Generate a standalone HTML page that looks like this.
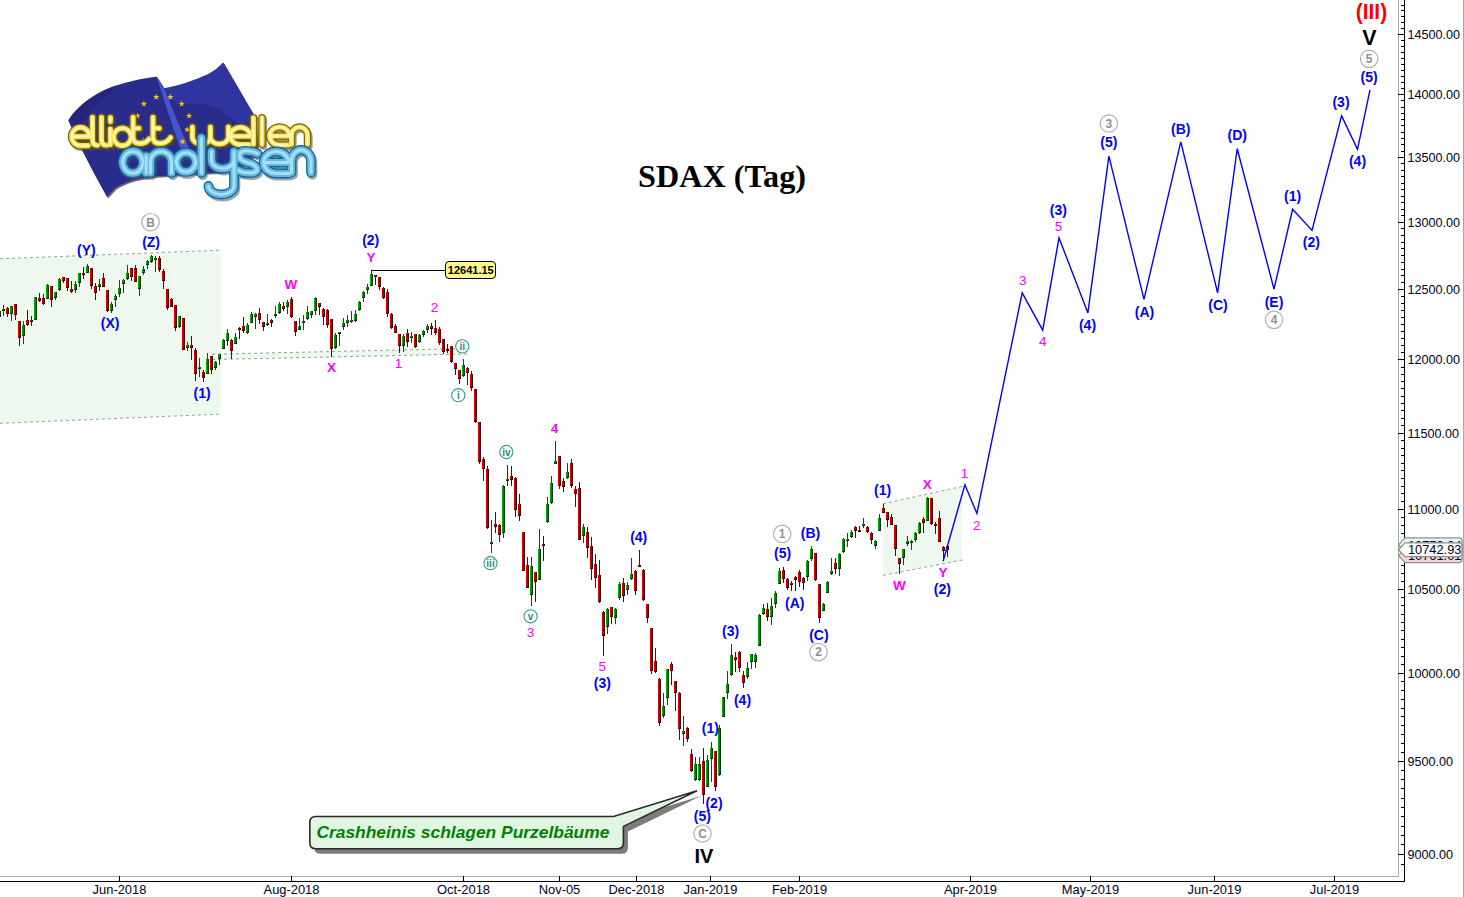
<!DOCTYPE html>
<html><head><meta charset="utf-8"><title>SDAX (Tag)</title>
<style>
html,body{margin:0;padding:0;background:#fff;}
body{width:1464px;height:897px;overflow:hidden;position:relative;font-family:"Liberation Sans",sans-serif;}
svg{position:absolute;left:0;top:0;}
rect{shape-rendering:crispEdges;}
</style></head><body>
<svg width="1464" height="897" viewBox="0 0 1464 897">
<polygon points="0,258.8 221,250.2 221,414.1 0,423.3" fill="#eef8ee"/>
<line x1="0" y1="258.8" x2="221" y2="250.2" stroke="#8fa596" stroke-width="1" stroke-dasharray="3,3"/>
<line x1="0" y1="423.3" x2="221" y2="414.1" stroke="#8fa596" stroke-width="1" stroke-dasharray="3,3"/>
<polygon points="212,354.2 468,348.5 468,354.0 212,359.5" fill="#eef8ee"/>
<line x1="212" y1="354.2" x2="468" y2="348.5" stroke="#8fa596" stroke-width="1" stroke-dasharray="3,3"/>
<line x1="212" y1="359.5" x2="468" y2="354.0" stroke="#8fa596" stroke-width="1" stroke-dasharray="3,3"/>
<polygon points="883,503.8 962.3,486.4 962.3,560.0 883,575.4" fill="#eef8ee"/>
<line x1="883" y1="503.8" x2="962.3" y2="486.4" stroke="#8fa596" stroke-width="1" stroke-dasharray="3,3"/>
<line x1="883" y1="575.4" x2="962.3" y2="560.0" stroke="#8fa596" stroke-width="1" stroke-dasharray="3,3"/>
<rect x="1398" y="0" width="1" height="877" fill="#9cb09c"/>
<rect x="0" y="876" width="1399" height="1" fill="#a8b0a8"/>
<rect x="1404" y="0" width="1" height="882" fill="#000"/>
<rect x="0" y="881" width="1405" height="1" fill="#000"/>
<rect x="1463" y="0" width="1" height="897" fill="#9aa6cc"/>
<rect x="1401" y="864" width="3" height="1" fill="#000"/>
<rect x="1398" y="854" width="7" height="1" fill="#000"/>
<rect x="1401" y="844" width="3" height="1" fill="#000"/>
<rect x="1401" y="835" width="3" height="1" fill="#000"/>
<rect x="1401" y="826" width="3" height="1" fill="#000"/>
<rect x="1401" y="816" width="3" height="1" fill="#000"/>
<rect x="1401" y="807" width="3" height="1" fill="#000"/>
<rect x="1401" y="798" width="3" height="1" fill="#000"/>
<rect x="1401" y="788" width="3" height="1" fill="#000"/>
<rect x="1401" y="779" width="3" height="1" fill="#000"/>
<rect x="1401" y="770" width="3" height="1" fill="#000"/>
<rect x="1398" y="761" width="7" height="1" fill="#000"/>
<rect x="1401" y="752" width="3" height="1" fill="#000"/>
<rect x="1401" y="743" width="3" height="1" fill="#000"/>
<rect x="1401" y="734" width="3" height="1" fill="#000"/>
<rect x="1401" y="725" width="3" height="1" fill="#000"/>
<rect x="1401" y="716" width="3" height="1" fill="#000"/>
<rect x="1401" y="708" width="3" height="1" fill="#000"/>
<rect x="1401" y="699" width="3" height="1" fill="#000"/>
<rect x="1401" y="690" width="3" height="1" fill="#000"/>
<rect x="1401" y="681" width="3" height="1" fill="#000"/>
<rect x="1398" y="673" width="7" height="1" fill="#000"/>
<rect x="1401" y="664" width="3" height="1" fill="#000"/>
<rect x="1401" y="656" width="3" height="1" fill="#000"/>
<rect x="1401" y="647" width="3" height="1" fill="#000"/>
<rect x="1401" y="639" width="3" height="1" fill="#000"/>
<rect x="1401" y="630" width="3" height="1" fill="#000"/>
<rect x="1401" y="622" width="3" height="1" fill="#000"/>
<rect x="1401" y="614" width="3" height="1" fill="#000"/>
<rect x="1401" y="605" width="3" height="1" fill="#000"/>
<rect x="1401" y="597" width="3" height="1" fill="#000"/>
<rect x="1398" y="589" width="7" height="1" fill="#000"/>
<rect x="1401" y="581" width="3" height="1" fill="#000"/>
<rect x="1401" y="573" width="3" height="1" fill="#000"/>
<rect x="1401" y="565" width="3" height="1" fill="#000"/>
<rect x="1401" y="557" width="3" height="1" fill="#000"/>
<rect x="1401" y="549" width="3" height="1" fill="#000"/>
<rect x="1401" y="541" width="3" height="1" fill="#000"/>
<rect x="1401" y="533" width="3" height="1" fill="#000"/>
<rect x="1401" y="525" width="3" height="1" fill="#000"/>
<rect x="1401" y="517" width="3" height="1" fill="#000"/>
<rect x="1398" y="509" width="7" height="1" fill="#000"/>
<rect x="1401" y="501" width="3" height="1" fill="#000"/>
<rect x="1401" y="493" width="3" height="1" fill="#000"/>
<rect x="1401" y="486" width="3" height="1" fill="#000"/>
<rect x="1401" y="478" width="3" height="1" fill="#000"/>
<rect x="1401" y="470" width="3" height="1" fill="#000"/>
<rect x="1401" y="463" width="3" height="1" fill="#000"/>
<rect x="1401" y="455" width="3" height="1" fill="#000"/>
<rect x="1401" y="448" width="3" height="1" fill="#000"/>
<rect x="1401" y="440" width="3" height="1" fill="#000"/>
<rect x="1398" y="433" width="7" height="1" fill="#000"/>
<rect x="1401" y="425" width="3" height="1" fill="#000"/>
<rect x="1401" y="418" width="3" height="1" fill="#000"/>
<rect x="1401" y="410" width="3" height="1" fill="#000"/>
<rect x="1401" y="403" width="3" height="1" fill="#000"/>
<rect x="1401" y="396" width="3" height="1" fill="#000"/>
<rect x="1401" y="388" width="3" height="1" fill="#000"/>
<rect x="1401" y="381" width="3" height="1" fill="#000"/>
<rect x="1401" y="374" width="3" height="1" fill="#000"/>
<rect x="1401" y="367" width="3" height="1" fill="#000"/>
<rect x="1398" y="359" width="7" height="1" fill="#000"/>
<rect x="1401" y="352" width="3" height="1" fill="#000"/>
<rect x="1401" y="345" width="3" height="1" fill="#000"/>
<rect x="1401" y="338" width="3" height="1" fill="#000"/>
<rect x="1401" y="331" width="3" height="1" fill="#000"/>
<rect x="1401" y="324" width="3" height="1" fill="#000"/>
<rect x="1401" y="317" width="3" height="1" fill="#000"/>
<rect x="1401" y="310" width="3" height="1" fill="#000"/>
<rect x="1401" y="303" width="3" height="1" fill="#000"/>
<rect x="1401" y="296" width="3" height="1" fill="#000"/>
<rect x="1398" y="289" width="7" height="1" fill="#000"/>
<rect x="1401" y="282" width="3" height="1" fill="#000"/>
<rect x="1401" y="275" width="3" height="1" fill="#000"/>
<rect x="1401" y="269" width="3" height="1" fill="#000"/>
<rect x="1401" y="262" width="3" height="1" fill="#000"/>
<rect x="1401" y="255" width="3" height="1" fill="#000"/>
<rect x="1401" y="248" width="3" height="1" fill="#000"/>
<rect x="1401" y="242" width="3" height="1" fill="#000"/>
<rect x="1401" y="235" width="3" height="1" fill="#000"/>
<rect x="1401" y="228" width="3" height="1" fill="#000"/>
<rect x="1398" y="222" width="7" height="1" fill="#000"/>
<rect x="1401" y="215" width="3" height="1" fill="#000"/>
<rect x="1401" y="209" width="3" height="1" fill="#000"/>
<rect x="1401" y="202" width="3" height="1" fill="#000"/>
<rect x="1401" y="196" width="3" height="1" fill="#000"/>
<rect x="1401" y="189" width="3" height="1" fill="#000"/>
<rect x="1401" y="183" width="3" height="1" fill="#000"/>
<rect x="1401" y="176" width="3" height="1" fill="#000"/>
<rect x="1401" y="170" width="3" height="1" fill="#000"/>
<rect x="1401" y="163" width="3" height="1" fill="#000"/>
<rect x="1398" y="157" width="7" height="1" fill="#000"/>
<rect x="1401" y="151" width="3" height="1" fill="#000"/>
<rect x="1401" y="144" width="3" height="1" fill="#000"/>
<rect x="1401" y="138" width="3" height="1" fill="#000"/>
<rect x="1401" y="132" width="3" height="1" fill="#000"/>
<rect x="1401" y="125" width="3" height="1" fill="#000"/>
<rect x="1401" y="119" width="3" height="1" fill="#000"/>
<rect x="1401" y="113" width="3" height="1" fill="#000"/>
<rect x="1401" y="107" width="3" height="1" fill="#000"/>
<rect x="1401" y="100" width="3" height="1" fill="#000"/>
<rect x="1398" y="94" width="7" height="1" fill="#000"/>
<rect x="1401" y="88" width="3" height="1" fill="#000"/>
<rect x="1401" y="82" width="3" height="1" fill="#000"/>
<rect x="1401" y="76" width="3" height="1" fill="#000"/>
<rect x="1401" y="70" width="3" height="1" fill="#000"/>
<rect x="1401" y="64" width="3" height="1" fill="#000"/>
<rect x="1401" y="58" width="3" height="1" fill="#000"/>
<rect x="1401" y="52" width="3" height="1" fill="#000"/>
<rect x="1401" y="46" width="3" height="1" fill="#000"/>
<rect x="1401" y="40" width="3" height="1" fill="#000"/>
<rect x="1398" y="34" width="7" height="1" fill="#000"/>
<rect x="1401" y="28" width="3" height="1" fill="#000"/>
<rect x="1401" y="22" width="3" height="1" fill="#000"/>
<rect x="1401" y="16" width="3" height="1" fill="#000"/>
<rect x="1401" y="10" width="3" height="1" fill="#000"/>
<rect x="1401" y="5" width="3" height="1" fill="#000"/>
<text x="1407.5" y="859.1" font-family="Liberation Sans, sans-serif" font-size="12.6" fill="#000028">9000.00</text>
<text x="1407.5" y="766.1" font-family="Liberation Sans, sans-serif" font-size="12.6" fill="#000028">9500.00</text>
<text x="1407.5" y="678.1" font-family="Liberation Sans, sans-serif" font-size="12.6" fill="#000028">10000.00</text>
<text x="1407.5" y="594.1" font-family="Liberation Sans, sans-serif" font-size="12.6" fill="#000028">10500.00</text>
<text x="1407.5" y="514.1" font-family="Liberation Sans, sans-serif" font-size="12.6" fill="#000028">11000.00</text>
<text x="1407.5" y="438.1" font-family="Liberation Sans, sans-serif" font-size="12.6" fill="#000028">11500.00</text>
<text x="1407.5" y="364.1" font-family="Liberation Sans, sans-serif" font-size="12.6" fill="#000028">12000.00</text>
<text x="1407.5" y="294.1" font-family="Liberation Sans, sans-serif" font-size="12.6" fill="#000028">12500.00</text>
<text x="1407.5" y="227.1" font-family="Liberation Sans, sans-serif" font-size="12.6" fill="#000028">13000.00</text>
<text x="1407.5" y="162.1" font-family="Liberation Sans, sans-serif" font-size="12.6" fill="#000028">13500.00</text>
<text x="1407.5" y="99.1" font-family="Liberation Sans, sans-serif" font-size="12.6" fill="#000028">14000.00</text>
<text x="1407.5" y="39.1" font-family="Liberation Sans, sans-serif" font-size="12.6" fill="#000028">14500.00</text>
<rect x="119.0" y="876" width="1" height="5" fill="#000"/>
<text x="119.5" y="893.7" font-family="Liberation Sans, sans-serif" font-size="12.9" fill="#000028" text-anchor="middle">Jun-2018</text>
<rect x="291.0" y="876" width="1" height="5" fill="#000"/>
<text x="291.5" y="893.7" font-family="Liberation Sans, sans-serif" font-size="12.9" fill="#000028" text-anchor="middle">Aug-2018</text>
<rect x="463.0" y="876" width="1" height="5" fill="#000"/>
<text x="463.5" y="893.7" font-family="Liberation Sans, sans-serif" font-size="12.9" fill="#000028" text-anchor="middle">Oct-2018</text>
<rect x="559.0" y="876" width="1" height="5" fill="#000"/>
<text x="559.5" y="893.7" font-family="Liberation Sans, sans-serif" font-size="12.9" fill="#000028" text-anchor="middle">Nov-05</text>
<rect x="636.0" y="876" width="1" height="5" fill="#000"/>
<text x="636.5" y="893.7" font-family="Liberation Sans, sans-serif" font-size="12.9" fill="#000028" text-anchor="middle">Dec-2018</text>
<rect x="710.0" y="876" width="1" height="5" fill="#000"/>
<text x="710.5" y="893.7" font-family="Liberation Sans, sans-serif" font-size="12.9" fill="#000028" text-anchor="middle">Jan-2019</text>
<rect x="799.0" y="876" width="1" height="5" fill="#000"/>
<text x="799.5" y="893.7" font-family="Liberation Sans, sans-serif" font-size="12.9" fill="#000028" text-anchor="middle">Feb-2019</text>
<rect x="970.0" y="876" width="1" height="5" fill="#000"/>
<text x="970.5" y="893.7" font-family="Liberation Sans, sans-serif" font-size="12.9" fill="#000028" text-anchor="middle">Apr-2019</text>
<rect x="1090.0" y="876" width="1" height="5" fill="#000"/>
<text x="1090.5" y="893.7" font-family="Liberation Sans, sans-serif" font-size="12.9" fill="#000028" text-anchor="middle">May-2019</text>
<rect x="1214.0" y="876" width="1" height="5" fill="#000"/>
<text x="1214.5" y="893.7" font-family="Liberation Sans, sans-serif" font-size="12.9" fill="#000028" text-anchor="middle">Jun-2019</text>
<rect x="1334.0" y="876" width="1" height="5" fill="#000"/>
<text x="1334.5" y="893.7" font-family="Liberation Sans, sans-serif" font-size="12.9" fill="#000028" text-anchor="middle">Jul-2019</text>
<rect x="-1" y="308" width="1" height="10" fill="#005800"/>
<rect x="-2" y="311" width="1" height="6" fill="#00b000"/>
<rect x="-1" y="311" width="1" height="6" fill="#007400"/>
<rect x="0" y="311" width="1" height="6" fill="#003800"/>
<rect x="-2" y="316" width="3" height="1" fill="#003800"/>
<rect x="3" y="305" width="1" height="11" fill="#005800"/>
<rect x="2" y="309" width="1" height="2" fill="#00b000"/>
<rect x="3" y="309" width="1" height="2" fill="#007400"/>
<rect x="4" y="309" width="1" height="2" fill="#003800"/>
<rect x="2" y="310" width="3" height="1" fill="#003800"/>
<rect x="7" y="307" width="1" height="10" fill="#6a0000"/>
<rect x="6" y="308" width="1" height="6" fill="#d80000"/>
<rect x="7" y="308" width="1" height="6" fill="#a00000"/>
<rect x="8" y="308" width="1" height="6" fill="#400000"/>
<rect x="6" y="313" width="3" height="1" fill="#400000"/>
<rect x="11" y="306" width="1" height="15" fill="#005800"/>
<rect x="10" y="306" width="1" height="8" fill="#00b000"/>
<rect x="11" y="306" width="1" height="8" fill="#007400"/>
<rect x="12" y="306" width="1" height="8" fill="#003800"/>
<rect x="10" y="313" width="3" height="1" fill="#003800"/>
<rect x="15" y="304" width="1" height="16" fill="#6a0000"/>
<rect x="14" y="304" width="1" height="11" fill="#d80000"/>
<rect x="15" y="304" width="1" height="11" fill="#a00000"/>
<rect x="16" y="304" width="1" height="11" fill="#400000"/>
<rect x="14" y="314" width="3" height="1" fill="#400000"/>
<rect x="19" y="321" width="1" height="25" fill="#6a0000"/>
<rect x="18" y="321" width="1" height="17" fill="#d80000"/>
<rect x="19" y="321" width="1" height="17" fill="#a00000"/>
<rect x="20" y="321" width="1" height="17" fill="#400000"/>
<rect x="18" y="337" width="3" height="1" fill="#400000"/>
<rect x="23" y="321" width="1" height="23" fill="#005800"/>
<rect x="22" y="325" width="1" height="11" fill="#00b000"/>
<rect x="23" y="325" width="1" height="11" fill="#007400"/>
<rect x="24" y="325" width="1" height="11" fill="#003800"/>
<rect x="22" y="335" width="3" height="1" fill="#003800"/>
<rect x="27" y="310" width="1" height="16" fill="#6a0000"/>
<rect x="26" y="320" width="1" height="5" fill="#d80000"/>
<rect x="27" y="320" width="1" height="5" fill="#a00000"/>
<rect x="28" y="320" width="1" height="5" fill="#400000"/>
<rect x="26" y="324" width="3" height="1" fill="#400000"/>
<rect x="31" y="316" width="1" height="10" fill="#6a0000"/>
<rect x="30" y="320" width="1" height="2" fill="#d80000"/>
<rect x="31" y="320" width="1" height="2" fill="#a00000"/>
<rect x="32" y="320" width="1" height="2" fill="#400000"/>
<rect x="30" y="321" width="3" height="1" fill="#400000"/>
<rect x="35" y="297" width="1" height="23" fill="#005800"/>
<rect x="34" y="297" width="1" height="23" fill="#00b000"/>
<rect x="35" y="297" width="1" height="23" fill="#007400"/>
<rect x="36" y="297" width="1" height="23" fill="#003800"/>
<rect x="34" y="319" width="3" height="1" fill="#003800"/>
<rect x="39" y="293" width="1" height="9" fill="#6a0000"/>
<rect x="38" y="298" width="1" height="3" fill="#d80000"/>
<rect x="39" y="298" width="1" height="3" fill="#a00000"/>
<rect x="40" y="298" width="1" height="3" fill="#400000"/>
<rect x="38" y="300" width="3" height="1" fill="#400000"/>
<rect x="43" y="294" width="1" height="11" fill="#6a0000"/>
<rect x="42" y="298" width="1" height="6" fill="#d80000"/>
<rect x="43" y="298" width="1" height="6" fill="#a00000"/>
<rect x="44" y="298" width="1" height="6" fill="#400000"/>
<rect x="42" y="303" width="3" height="1" fill="#400000"/>
<rect x="47" y="284" width="1" height="15" fill="#005800"/>
<rect x="46" y="285" width="1" height="14" fill="#00b000"/>
<rect x="47" y="285" width="1" height="14" fill="#007400"/>
<rect x="48" y="285" width="1" height="14" fill="#003800"/>
<rect x="46" y="298" width="3" height="1" fill="#003800"/>
<rect x="51" y="286" width="1" height="21" fill="#6a0000"/>
<rect x="50" y="286" width="1" height="14" fill="#d80000"/>
<rect x="51" y="286" width="1" height="14" fill="#a00000"/>
<rect x="52" y="286" width="1" height="14" fill="#400000"/>
<rect x="50" y="299" width="3" height="1" fill="#400000"/>
<rect x="55" y="292" width="1" height="8" fill="#005800"/>
<rect x="54" y="292" width="1" height="6" fill="#00b000"/>
<rect x="55" y="292" width="1" height="6" fill="#007400"/>
<rect x="56" y="292" width="1" height="6" fill="#003800"/>
<rect x="54" y="297" width="3" height="1" fill="#003800"/>
<rect x="59" y="278" width="1" height="13" fill="#005800"/>
<rect x="58" y="279" width="1" height="11" fill="#00b000"/>
<rect x="59" y="279" width="1" height="11" fill="#007400"/>
<rect x="60" y="279" width="1" height="11" fill="#003800"/>
<rect x="58" y="289" width="3" height="1" fill="#003800"/>
<rect x="63" y="277" width="1" height="6" fill="#6a0000"/>
<rect x="62" y="277" width="1" height="4" fill="#d80000"/>
<rect x="63" y="277" width="1" height="4" fill="#a00000"/>
<rect x="64" y="277" width="1" height="4" fill="#400000"/>
<rect x="62" y="280" width="3" height="1" fill="#400000"/>
<rect x="67" y="278" width="1" height="13" fill="#6a0000"/>
<rect x="66" y="278" width="1" height="10" fill="#d80000"/>
<rect x="67" y="278" width="1" height="10" fill="#a00000"/>
<rect x="68" y="278" width="1" height="10" fill="#400000"/>
<rect x="66" y="287" width="3" height="1" fill="#400000"/>
<rect x="71" y="281" width="1" height="12" fill="#6a0000"/>
<rect x="70" y="289" width="1" height="3" fill="#d80000"/>
<rect x="71" y="289" width="1" height="3" fill="#a00000"/>
<rect x="72" y="289" width="1" height="3" fill="#400000"/>
<rect x="70" y="291" width="3" height="1" fill="#400000"/>
<rect x="75" y="281" width="1" height="12" fill="#005800"/>
<rect x="74" y="284" width="1" height="6" fill="#00b000"/>
<rect x="75" y="284" width="1" height="6" fill="#007400"/>
<rect x="76" y="284" width="1" height="6" fill="#003800"/>
<rect x="74" y="289" width="3" height="1" fill="#003800"/>
<rect x="79" y="273" width="1" height="14" fill="#005800"/>
<rect x="78" y="273" width="1" height="10" fill="#00b000"/>
<rect x="79" y="273" width="1" height="10" fill="#007400"/>
<rect x="80" y="273" width="1" height="10" fill="#003800"/>
<rect x="78" y="282" width="3" height="1" fill="#003800"/>
<rect x="83" y="267" width="1" height="12" fill="#6a0000"/>
<rect x="82" y="273" width="1" height="2" fill="#d80000"/>
<rect x="83" y="273" width="1" height="2" fill="#a00000"/>
<rect x="84" y="273" width="1" height="2" fill="#400000"/>
<rect x="82" y="274" width="3" height="1" fill="#400000"/>
<rect x="87" y="264" width="1" height="9" fill="#005800"/>
<rect x="86" y="266" width="1" height="7" fill="#00b000"/>
<rect x="87" y="266" width="1" height="7" fill="#007400"/>
<rect x="88" y="266" width="1" height="7" fill="#003800"/>
<rect x="86" y="272" width="3" height="1" fill="#003800"/>
<rect x="91" y="268" width="1" height="21" fill="#6a0000"/>
<rect x="90" y="268" width="1" height="18" fill="#d80000"/>
<rect x="91" y="268" width="1" height="18" fill="#a00000"/>
<rect x="92" y="268" width="1" height="18" fill="#400000"/>
<rect x="90" y="285" width="3" height="1" fill="#400000"/>
<rect x="95" y="283" width="1" height="17" fill="#6a0000"/>
<rect x="94" y="286" width="1" height="7" fill="#d80000"/>
<rect x="95" y="286" width="1" height="7" fill="#a00000"/>
<rect x="96" y="286" width="1" height="7" fill="#400000"/>
<rect x="94" y="292" width="3" height="1" fill="#400000"/>
<rect x="99" y="279" width="1" height="12" fill="#005800"/>
<rect x="98" y="284" width="1" height="3" fill="#00b000"/>
<rect x="99" y="284" width="1" height="3" fill="#007400"/>
<rect x="100" y="284" width="1" height="3" fill="#003800"/>
<rect x="98" y="286" width="3" height="1" fill="#003800"/>
<rect x="103" y="273" width="1" height="14" fill="#6a0000"/>
<rect x="102" y="278" width="1" height="9" fill="#d80000"/>
<rect x="103" y="278" width="1" height="9" fill="#a00000"/>
<rect x="104" y="278" width="1" height="9" fill="#400000"/>
<rect x="102" y="286" width="3" height="1" fill="#400000"/>
<rect x="107" y="290" width="1" height="22" fill="#6a0000"/>
<rect x="106" y="290" width="1" height="21" fill="#d80000"/>
<rect x="107" y="290" width="1" height="21" fill="#a00000"/>
<rect x="108" y="290" width="1" height="21" fill="#400000"/>
<rect x="106" y="310" width="3" height="1" fill="#400000"/>
<rect x="111" y="302" width="1" height="11" fill="#005800"/>
<rect x="110" y="304" width="1" height="7" fill="#00b000"/>
<rect x="111" y="304" width="1" height="7" fill="#007400"/>
<rect x="112" y="304" width="1" height="7" fill="#003800"/>
<rect x="110" y="310" width="3" height="1" fill="#003800"/>
<rect x="115" y="294" width="1" height="13" fill="#005800"/>
<rect x="114" y="296" width="1" height="4" fill="#00b000"/>
<rect x="115" y="296" width="1" height="4" fill="#007400"/>
<rect x="116" y="296" width="1" height="4" fill="#003800"/>
<rect x="114" y="299" width="3" height="1" fill="#003800"/>
<rect x="119" y="280" width="1" height="17" fill="#005800"/>
<rect x="118" y="288" width="1" height="6" fill="#00b000"/>
<rect x="119" y="288" width="1" height="6" fill="#007400"/>
<rect x="120" y="288" width="1" height="6" fill="#003800"/>
<rect x="118" y="293" width="3" height="1" fill="#003800"/>
<rect x="123" y="279" width="1" height="14" fill="#005800"/>
<rect x="122" y="280" width="1" height="4" fill="#00b000"/>
<rect x="123" y="280" width="1" height="4" fill="#007400"/>
<rect x="124" y="280" width="1" height="4" fill="#003800"/>
<rect x="122" y="283" width="3" height="1" fill="#003800"/>
<rect x="127" y="265" width="1" height="15" fill="#005800"/>
<rect x="126" y="273" width="1" height="6" fill="#00b000"/>
<rect x="127" y="273" width="1" height="6" fill="#007400"/>
<rect x="128" y="273" width="1" height="6" fill="#003800"/>
<rect x="126" y="278" width="3" height="1" fill="#003800"/>
<rect x="131" y="268" width="1" height="13" fill="#6a0000"/>
<rect x="130" y="268" width="1" height="9" fill="#d80000"/>
<rect x="131" y="268" width="1" height="9" fill="#a00000"/>
<rect x="132" y="268" width="1" height="9" fill="#400000"/>
<rect x="130" y="276" width="3" height="1" fill="#400000"/>
<rect x="135" y="265" width="1" height="17" fill="#6a0000"/>
<rect x="134" y="268" width="1" height="14" fill="#d80000"/>
<rect x="135" y="268" width="1" height="14" fill="#a00000"/>
<rect x="136" y="268" width="1" height="14" fill="#400000"/>
<rect x="134" y="281" width="3" height="1" fill="#400000"/>
<rect x="139" y="276" width="1" height="20" fill="#005800"/>
<rect x="138" y="276" width="1" height="13" fill="#00b000"/>
<rect x="139" y="276" width="1" height="13" fill="#007400"/>
<rect x="140" y="276" width="1" height="13" fill="#003800"/>
<rect x="138" y="288" width="3" height="1" fill="#003800"/>
<rect x="143" y="266" width="1" height="9" fill="#005800"/>
<rect x="142" y="269" width="1" height="4" fill="#00b000"/>
<rect x="143" y="269" width="1" height="4" fill="#007400"/>
<rect x="144" y="269" width="1" height="4" fill="#003800"/>
<rect x="142" y="272" width="3" height="1" fill="#003800"/>
<rect x="147" y="260" width="1" height="9" fill="#005800"/>
<rect x="146" y="261" width="1" height="4" fill="#00b000"/>
<rect x="147" y="261" width="1" height="4" fill="#007400"/>
<rect x="148" y="261" width="1" height="4" fill="#003800"/>
<rect x="146" y="264" width="3" height="1" fill="#003800"/>
<rect x="151" y="255" width="1" height="8" fill="#005800"/>
<rect x="150" y="256" width="1" height="6" fill="#00b000"/>
<rect x="151" y="256" width="1" height="6" fill="#007400"/>
<rect x="152" y="256" width="1" height="6" fill="#003800"/>
<rect x="150" y="261" width="3" height="1" fill="#003800"/>
<rect x="155" y="256" width="1" height="16" fill="#005800"/>
<rect x="154" y="258" width="1" height="2" fill="#00b000"/>
<rect x="155" y="258" width="1" height="2" fill="#007400"/>
<rect x="156" y="258" width="1" height="2" fill="#003800"/>
<rect x="154" y="259" width="3" height="1" fill="#003800"/>
<rect x="159" y="256" width="1" height="16" fill="#6a0000"/>
<rect x="158" y="258" width="1" height="12" fill="#d80000"/>
<rect x="159" y="258" width="1" height="12" fill="#a00000"/>
<rect x="160" y="258" width="1" height="12" fill="#400000"/>
<rect x="158" y="269" width="3" height="1" fill="#400000"/>
<rect x="163" y="269" width="1" height="20" fill="#6a0000"/>
<rect x="162" y="271" width="1" height="10" fill="#d80000"/>
<rect x="163" y="271" width="1" height="10" fill="#a00000"/>
<rect x="164" y="271" width="1" height="10" fill="#400000"/>
<rect x="162" y="280" width="3" height="1" fill="#400000"/>
<rect x="167" y="289" width="1" height="21" fill="#6a0000"/>
<rect x="166" y="289" width="1" height="19" fill="#d80000"/>
<rect x="167" y="289" width="1" height="19" fill="#a00000"/>
<rect x="168" y="289" width="1" height="19" fill="#400000"/>
<rect x="166" y="307" width="3" height="1" fill="#400000"/>
<rect x="171" y="298" width="1" height="9" fill="#6a0000"/>
<rect x="170" y="299" width="1" height="8" fill="#d80000"/>
<rect x="171" y="299" width="1" height="8" fill="#a00000"/>
<rect x="172" y="299" width="1" height="8" fill="#400000"/>
<rect x="170" y="306" width="3" height="1" fill="#400000"/>
<rect x="175" y="305" width="1" height="26" fill="#6a0000"/>
<rect x="174" y="305" width="1" height="23" fill="#d80000"/>
<rect x="175" y="305" width="1" height="23" fill="#a00000"/>
<rect x="176" y="305" width="1" height="23" fill="#400000"/>
<rect x="174" y="327" width="3" height="1" fill="#400000"/>
<rect x="179" y="316" width="1" height="12" fill="#005800"/>
<rect x="178" y="316" width="1" height="11" fill="#00b000"/>
<rect x="179" y="316" width="1" height="11" fill="#007400"/>
<rect x="180" y="316" width="1" height="11" fill="#003800"/>
<rect x="178" y="326" width="3" height="1" fill="#003800"/>
<rect x="183" y="318" width="1" height="32" fill="#6a0000"/>
<rect x="182" y="318" width="1" height="32" fill="#d80000"/>
<rect x="183" y="318" width="1" height="32" fill="#a00000"/>
<rect x="184" y="318" width="1" height="32" fill="#400000"/>
<rect x="182" y="349" width="3" height="1" fill="#400000"/>
<rect x="187" y="342" width="1" height="9" fill="#005800"/>
<rect x="186" y="345" width="1" height="3" fill="#00b000"/>
<rect x="187" y="345" width="1" height="3" fill="#007400"/>
<rect x="188" y="345" width="1" height="3" fill="#003800"/>
<rect x="186" y="347" width="3" height="1" fill="#003800"/>
<rect x="191" y="336" width="1" height="24" fill="#6a0000"/>
<rect x="190" y="345" width="1" height="3" fill="#d80000"/>
<rect x="191" y="345" width="1" height="3" fill="#a00000"/>
<rect x="192" y="345" width="1" height="3" fill="#400000"/>
<rect x="190" y="347" width="3" height="1" fill="#400000"/>
<rect x="195" y="348" width="1" height="33" fill="#6a0000"/>
<rect x="194" y="350" width="1" height="24" fill="#d80000"/>
<rect x="195" y="350" width="1" height="24" fill="#a00000"/>
<rect x="196" y="350" width="1" height="24" fill="#400000"/>
<rect x="194" y="373" width="3" height="1" fill="#400000"/>
<rect x="199" y="358" width="1" height="19" fill="#005800"/>
<rect x="198" y="367" width="1" height="2" fill="#00b000"/>
<rect x="199" y="367" width="1" height="2" fill="#007400"/>
<rect x="200" y="367" width="1" height="2" fill="#003800"/>
<rect x="198" y="368" width="3" height="1" fill="#003800"/>
<rect x="203" y="370" width="1" height="12" fill="#6a0000"/>
<rect x="202" y="372" width="1" height="6" fill="#d80000"/>
<rect x="203" y="372" width="1" height="6" fill="#a00000"/>
<rect x="204" y="372" width="1" height="6" fill="#400000"/>
<rect x="202" y="377" width="3" height="1" fill="#400000"/>
<rect x="207" y="353" width="1" height="21" fill="#005800"/>
<rect x="206" y="359" width="1" height="15" fill="#00b000"/>
<rect x="207" y="359" width="1" height="15" fill="#007400"/>
<rect x="208" y="359" width="1" height="15" fill="#003800"/>
<rect x="206" y="373" width="3" height="1" fill="#003800"/>
<rect x="211" y="356" width="1" height="18" fill="#6a0000"/>
<rect x="210" y="356" width="1" height="14" fill="#d80000"/>
<rect x="211" y="356" width="1" height="14" fill="#a00000"/>
<rect x="212" y="356" width="1" height="14" fill="#400000"/>
<rect x="210" y="369" width="3" height="1" fill="#400000"/>
<rect x="215" y="361" width="1" height="9" fill="#005800"/>
<rect x="214" y="362" width="1" height="6" fill="#00b000"/>
<rect x="215" y="362" width="1" height="6" fill="#007400"/>
<rect x="216" y="362" width="1" height="6" fill="#003800"/>
<rect x="214" y="367" width="3" height="1" fill="#003800"/>
<rect x="219" y="354" width="1" height="11" fill="#005800"/>
<rect x="218" y="354" width="1" height="5" fill="#00b000"/>
<rect x="219" y="354" width="1" height="5" fill="#007400"/>
<rect x="220" y="354" width="1" height="5" fill="#003800"/>
<rect x="218" y="358" width="3" height="1" fill="#003800"/>
<rect x="223" y="339" width="1" height="10" fill="#005800"/>
<rect x="222" y="340" width="1" height="9" fill="#00b000"/>
<rect x="223" y="340" width="1" height="9" fill="#007400"/>
<rect x="224" y="340" width="1" height="9" fill="#003800"/>
<rect x="222" y="348" width="3" height="1" fill="#003800"/>
<rect x="227" y="329" width="1" height="17" fill="#005800"/>
<rect x="226" y="333" width="1" height="8" fill="#00b000"/>
<rect x="227" y="333" width="1" height="8" fill="#007400"/>
<rect x="228" y="333" width="1" height="8" fill="#003800"/>
<rect x="226" y="340" width="3" height="1" fill="#003800"/>
<rect x="231" y="339" width="1" height="20" fill="#6a0000"/>
<rect x="230" y="340" width="1" height="11" fill="#d80000"/>
<rect x="231" y="340" width="1" height="11" fill="#a00000"/>
<rect x="232" y="340" width="1" height="11" fill="#400000"/>
<rect x="230" y="350" width="3" height="1" fill="#400000"/>
<rect x="235" y="333" width="1" height="11" fill="#005800"/>
<rect x="234" y="337" width="1" height="7" fill="#00b000"/>
<rect x="235" y="337" width="1" height="7" fill="#007400"/>
<rect x="236" y="337" width="1" height="7" fill="#003800"/>
<rect x="234" y="343" width="3" height="1" fill="#003800"/>
<rect x="239" y="327" width="1" height="12" fill="#6a0000"/>
<rect x="238" y="328" width="1" height="2" fill="#d80000"/>
<rect x="239" y="328" width="1" height="2" fill="#a00000"/>
<rect x="240" y="328" width="1" height="2" fill="#400000"/>
<rect x="238" y="329" width="3" height="1" fill="#400000"/>
<rect x="243" y="317" width="1" height="16" fill="#6a0000"/>
<rect x="242" y="326" width="1" height="5" fill="#d80000"/>
<rect x="243" y="326" width="1" height="5" fill="#a00000"/>
<rect x="244" y="326" width="1" height="5" fill="#400000"/>
<rect x="242" y="330" width="3" height="1" fill="#400000"/>
<rect x="247" y="323" width="1" height="11" fill="#005800"/>
<rect x="246" y="325" width="1" height="8" fill="#00b000"/>
<rect x="247" y="325" width="1" height="8" fill="#007400"/>
<rect x="248" y="325" width="1" height="8" fill="#003800"/>
<rect x="246" y="332" width="3" height="1" fill="#003800"/>
<rect x="251" y="312" width="1" height="11" fill="#005800"/>
<rect x="250" y="314" width="1" height="9" fill="#00b000"/>
<rect x="251" y="314" width="1" height="9" fill="#007400"/>
<rect x="252" y="314" width="1" height="9" fill="#003800"/>
<rect x="250" y="322" width="3" height="1" fill="#003800"/>
<rect x="255" y="313" width="1" height="16" fill="#005800"/>
<rect x="254" y="314" width="1" height="3" fill="#00b000"/>
<rect x="255" y="314" width="1" height="3" fill="#007400"/>
<rect x="256" y="314" width="1" height="3" fill="#003800"/>
<rect x="254" y="316" width="3" height="1" fill="#003800"/>
<rect x="259" y="308" width="1" height="16" fill="#6a0000"/>
<rect x="258" y="313" width="1" height="7" fill="#d80000"/>
<rect x="259" y="313" width="1" height="7" fill="#a00000"/>
<rect x="260" y="313" width="1" height="7" fill="#400000"/>
<rect x="258" y="319" width="3" height="1" fill="#400000"/>
<rect x="263" y="322" width="1" height="9" fill="#6a0000"/>
<rect x="262" y="322" width="1" height="5" fill="#d80000"/>
<rect x="263" y="322" width="1" height="5" fill="#a00000"/>
<rect x="264" y="322" width="1" height="5" fill="#400000"/>
<rect x="262" y="326" width="3" height="1" fill="#400000"/>
<rect x="267" y="314" width="1" height="12" fill="#005800"/>
<rect x="266" y="323" width="1" height="2" fill="#00b000"/>
<rect x="267" y="323" width="1" height="2" fill="#007400"/>
<rect x="268" y="323" width="1" height="2" fill="#003800"/>
<rect x="266" y="324" width="3" height="1" fill="#003800"/>
<rect x="271" y="319" width="1" height="8" fill="#6a0000"/>
<rect x="270" y="320" width="1" height="3" fill="#d80000"/>
<rect x="271" y="320" width="1" height="3" fill="#a00000"/>
<rect x="272" y="320" width="1" height="3" fill="#400000"/>
<rect x="270" y="322" width="3" height="1" fill="#400000"/>
<rect x="275" y="306" width="1" height="12" fill="#005800"/>
<rect x="274" y="314" width="1" height="2" fill="#00b000"/>
<rect x="275" y="314" width="1" height="2" fill="#007400"/>
<rect x="276" y="314" width="1" height="2" fill="#003800"/>
<rect x="274" y="315" width="3" height="1" fill="#003800"/>
<rect x="279" y="302" width="1" height="12" fill="#005800"/>
<rect x="278" y="304" width="1" height="9" fill="#00b000"/>
<rect x="279" y="304" width="1" height="9" fill="#007400"/>
<rect x="280" y="304" width="1" height="9" fill="#003800"/>
<rect x="278" y="312" width="3" height="1" fill="#003800"/>
<rect x="283" y="302" width="1" height="9" fill="#6a0000"/>
<rect x="282" y="306" width="1" height="3" fill="#d80000"/>
<rect x="283" y="306" width="1" height="3" fill="#a00000"/>
<rect x="284" y="306" width="1" height="3" fill="#400000"/>
<rect x="282" y="308" width="3" height="1" fill="#400000"/>
<rect x="287" y="300" width="1" height="14" fill="#005800"/>
<rect x="286" y="302" width="1" height="5" fill="#00b000"/>
<rect x="287" y="302" width="1" height="5" fill="#007400"/>
<rect x="288" y="302" width="1" height="5" fill="#003800"/>
<rect x="286" y="306" width="3" height="1" fill="#003800"/>
<rect x="291" y="297" width="1" height="21" fill="#6a0000"/>
<rect x="290" y="299" width="1" height="18" fill="#d80000"/>
<rect x="291" y="299" width="1" height="18" fill="#a00000"/>
<rect x="292" y="299" width="1" height="18" fill="#400000"/>
<rect x="290" y="316" width="3" height="1" fill="#400000"/>
<rect x="295" y="321" width="1" height="15" fill="#6a0000"/>
<rect x="294" y="321" width="1" height="11" fill="#d80000"/>
<rect x="295" y="321" width="1" height="11" fill="#a00000"/>
<rect x="296" y="321" width="1" height="11" fill="#400000"/>
<rect x="294" y="331" width="3" height="1" fill="#400000"/>
<rect x="299" y="318" width="1" height="12" fill="#005800"/>
<rect x="298" y="326" width="1" height="4" fill="#00b000"/>
<rect x="299" y="326" width="1" height="4" fill="#007400"/>
<rect x="300" y="326" width="1" height="4" fill="#003800"/>
<rect x="298" y="329" width="3" height="1" fill="#003800"/>
<rect x="303" y="315" width="1" height="15" fill="#005800"/>
<rect x="302" y="321" width="1" height="2" fill="#00b000"/>
<rect x="303" y="321" width="1" height="2" fill="#007400"/>
<rect x="304" y="321" width="1" height="2" fill="#003800"/>
<rect x="302" y="322" width="3" height="1" fill="#003800"/>
<rect x="307" y="306" width="1" height="14" fill="#005800"/>
<rect x="306" y="312" width="1" height="7" fill="#00b000"/>
<rect x="307" y="312" width="1" height="7" fill="#007400"/>
<rect x="308" y="312" width="1" height="7" fill="#003800"/>
<rect x="306" y="318" width="3" height="1" fill="#003800"/>
<rect x="311" y="311" width="1" height="7" fill="#005800"/>
<rect x="310" y="311" width="1" height="4" fill="#00b000"/>
<rect x="311" y="311" width="1" height="4" fill="#007400"/>
<rect x="312" y="311" width="1" height="4" fill="#003800"/>
<rect x="310" y="314" width="3" height="1" fill="#003800"/>
<rect x="315" y="297" width="1" height="18" fill="#005800"/>
<rect x="314" y="298" width="1" height="13" fill="#00b000"/>
<rect x="315" y="298" width="1" height="13" fill="#007400"/>
<rect x="316" y="298" width="1" height="13" fill="#003800"/>
<rect x="314" y="310" width="3" height="1" fill="#003800"/>
<rect x="319" y="303" width="1" height="12" fill="#6a0000"/>
<rect x="318" y="303" width="1" height="4" fill="#d80000"/>
<rect x="319" y="303" width="1" height="4" fill="#a00000"/>
<rect x="320" y="303" width="1" height="4" fill="#400000"/>
<rect x="318" y="306" width="3" height="1" fill="#400000"/>
<rect x="323" y="308" width="1" height="17" fill="#6a0000"/>
<rect x="322" y="309" width="1" height="8" fill="#d80000"/>
<rect x="323" y="309" width="1" height="8" fill="#a00000"/>
<rect x="324" y="309" width="1" height="8" fill="#400000"/>
<rect x="322" y="316" width="3" height="1" fill="#400000"/>
<rect x="327" y="309" width="1" height="19" fill="#6a0000"/>
<rect x="326" y="310" width="1" height="15" fill="#d80000"/>
<rect x="327" y="310" width="1" height="15" fill="#a00000"/>
<rect x="328" y="310" width="1" height="15" fill="#400000"/>
<rect x="326" y="324" width="3" height="1" fill="#400000"/>
<rect x="331" y="319" width="1" height="38" fill="#6a0000"/>
<rect x="330" y="319" width="1" height="30" fill="#d80000"/>
<rect x="331" y="319" width="1" height="30" fill="#a00000"/>
<rect x="332" y="319" width="1" height="30" fill="#400000"/>
<rect x="330" y="348" width="3" height="1" fill="#400000"/>
<rect x="335" y="333" width="1" height="16" fill="#005800"/>
<rect x="334" y="335" width="1" height="13" fill="#00b000"/>
<rect x="335" y="335" width="1" height="13" fill="#007400"/>
<rect x="336" y="335" width="1" height="13" fill="#003800"/>
<rect x="334" y="347" width="3" height="1" fill="#003800"/>
<rect x="339" y="332" width="1" height="14" fill="#005800"/>
<rect x="338" y="332" width="1" height="2" fill="#00b000"/>
<rect x="339" y="332" width="1" height="2" fill="#007400"/>
<rect x="340" y="332" width="1" height="2" fill="#003800"/>
<rect x="338" y="333" width="3" height="1" fill="#003800"/>
<rect x="343" y="318" width="1" height="12" fill="#005800"/>
<rect x="342" y="323" width="1" height="4" fill="#00b000"/>
<rect x="343" y="323" width="1" height="4" fill="#007400"/>
<rect x="344" y="323" width="1" height="4" fill="#003800"/>
<rect x="342" y="326" width="3" height="1" fill="#003800"/>
<rect x="347" y="315" width="1" height="12" fill="#005800"/>
<rect x="346" y="320" width="1" height="3" fill="#00b000"/>
<rect x="347" y="320" width="1" height="3" fill="#007400"/>
<rect x="348" y="320" width="1" height="3" fill="#003800"/>
<rect x="346" y="322" width="3" height="1" fill="#003800"/>
<rect x="351" y="311" width="1" height="12" fill="#005800"/>
<rect x="350" y="320" width="1" height="2" fill="#00b000"/>
<rect x="351" y="320" width="1" height="2" fill="#007400"/>
<rect x="352" y="320" width="1" height="2" fill="#003800"/>
<rect x="350" y="321" width="3" height="1" fill="#003800"/>
<rect x="355" y="310" width="1" height="12" fill="#005800"/>
<rect x="354" y="314" width="1" height="7" fill="#00b000"/>
<rect x="355" y="314" width="1" height="7" fill="#007400"/>
<rect x="356" y="314" width="1" height="7" fill="#003800"/>
<rect x="354" y="320" width="3" height="1" fill="#003800"/>
<rect x="359" y="301" width="1" height="10" fill="#005800"/>
<rect x="358" y="302" width="1" height="8" fill="#00b000"/>
<rect x="359" y="302" width="1" height="8" fill="#007400"/>
<rect x="360" y="302" width="1" height="8" fill="#003800"/>
<rect x="358" y="309" width="3" height="1" fill="#003800"/>
<rect x="363" y="291" width="1" height="11" fill="#005800"/>
<rect x="362" y="292" width="1" height="6" fill="#00b000"/>
<rect x="363" y="292" width="1" height="6" fill="#007400"/>
<rect x="364" y="292" width="1" height="6" fill="#003800"/>
<rect x="362" y="297" width="3" height="1" fill="#003800"/>
<rect x="367" y="284" width="1" height="10" fill="#005800"/>
<rect x="366" y="287" width="1" height="3" fill="#00b000"/>
<rect x="367" y="287" width="1" height="3" fill="#007400"/>
<rect x="368" y="287" width="1" height="3" fill="#003800"/>
<rect x="366" y="289" width="3" height="1" fill="#003800"/>
<rect x="371" y="270" width="1" height="16" fill="#005800"/>
<rect x="370" y="274" width="1" height="12" fill="#00b000"/>
<rect x="371" y="274" width="1" height="12" fill="#007400"/>
<rect x="372" y="274" width="1" height="12" fill="#003800"/>
<rect x="370" y="285" width="3" height="1" fill="#003800"/>
<rect x="375" y="275" width="1" height="10" fill="#6a0000"/>
<rect x="374" y="275" width="1" height="2" fill="#d80000"/>
<rect x="375" y="275" width="1" height="2" fill="#a00000"/>
<rect x="376" y="275" width="1" height="2" fill="#400000"/>
<rect x="374" y="276" width="3" height="1" fill="#400000"/>
<rect x="379" y="277" width="1" height="13" fill="#6a0000"/>
<rect x="378" y="277" width="1" height="10" fill="#d80000"/>
<rect x="379" y="277" width="1" height="10" fill="#a00000"/>
<rect x="380" y="277" width="1" height="10" fill="#400000"/>
<rect x="378" y="286" width="3" height="1" fill="#400000"/>
<rect x="383" y="287" width="1" height="12" fill="#6a0000"/>
<rect x="382" y="288" width="1" height="10" fill="#d80000"/>
<rect x="383" y="288" width="1" height="10" fill="#a00000"/>
<rect x="384" y="288" width="1" height="10" fill="#400000"/>
<rect x="382" y="297" width="3" height="1" fill="#400000"/>
<rect x="387" y="289" width="1" height="28" fill="#6a0000"/>
<rect x="386" y="292" width="1" height="22" fill="#d80000"/>
<rect x="387" y="292" width="1" height="22" fill="#a00000"/>
<rect x="388" y="292" width="1" height="22" fill="#400000"/>
<rect x="386" y="313" width="3" height="1" fill="#400000"/>
<rect x="391" y="313" width="1" height="16" fill="#6a0000"/>
<rect x="390" y="314" width="1" height="14" fill="#d80000"/>
<rect x="391" y="314" width="1" height="14" fill="#a00000"/>
<rect x="392" y="314" width="1" height="14" fill="#400000"/>
<rect x="390" y="327" width="3" height="1" fill="#400000"/>
<rect x="395" y="324" width="1" height="9" fill="#6a0000"/>
<rect x="394" y="326" width="1" height="7" fill="#d80000"/>
<rect x="395" y="326" width="1" height="7" fill="#a00000"/>
<rect x="396" y="326" width="1" height="7" fill="#400000"/>
<rect x="394" y="332" width="3" height="1" fill="#400000"/>
<rect x="399" y="334" width="1" height="19" fill="#6a0000"/>
<rect x="398" y="334" width="1" height="12" fill="#d80000"/>
<rect x="399" y="334" width="1" height="12" fill="#a00000"/>
<rect x="400" y="334" width="1" height="12" fill="#400000"/>
<rect x="398" y="345" width="3" height="1" fill="#400000"/>
<rect x="403" y="334" width="1" height="18" fill="#005800"/>
<rect x="402" y="336" width="1" height="10" fill="#00b000"/>
<rect x="403" y="336" width="1" height="10" fill="#007400"/>
<rect x="404" y="336" width="1" height="10" fill="#003800"/>
<rect x="402" y="345" width="3" height="1" fill="#003800"/>
<rect x="407" y="329" width="1" height="18" fill="#6a0000"/>
<rect x="406" y="333" width="1" height="9" fill="#d80000"/>
<rect x="407" y="333" width="1" height="9" fill="#a00000"/>
<rect x="408" y="333" width="1" height="9" fill="#400000"/>
<rect x="406" y="341" width="3" height="1" fill="#400000"/>
<rect x="411" y="332" width="1" height="11" fill="#005800"/>
<rect x="410" y="336" width="1" height="2" fill="#00b000"/>
<rect x="411" y="336" width="1" height="2" fill="#007400"/>
<rect x="412" y="336" width="1" height="2" fill="#003800"/>
<rect x="410" y="337" width="3" height="1" fill="#003800"/>
<rect x="415" y="334" width="1" height="14" fill="#6a0000"/>
<rect x="414" y="334" width="1" height="13" fill="#d80000"/>
<rect x="415" y="334" width="1" height="13" fill="#a00000"/>
<rect x="416" y="334" width="1" height="13" fill="#400000"/>
<rect x="414" y="346" width="3" height="1" fill="#400000"/>
<rect x="419" y="334" width="1" height="9" fill="#005800"/>
<rect x="418" y="335" width="1" height="7" fill="#00b000"/>
<rect x="419" y="335" width="1" height="7" fill="#007400"/>
<rect x="420" y="335" width="1" height="7" fill="#003800"/>
<rect x="418" y="341" width="3" height="1" fill="#003800"/>
<rect x="423" y="330" width="1" height="7" fill="#005800"/>
<rect x="422" y="331" width="1" height="4" fill="#00b000"/>
<rect x="423" y="331" width="1" height="4" fill="#007400"/>
<rect x="424" y="331" width="1" height="4" fill="#003800"/>
<rect x="422" y="334" width="3" height="1" fill="#003800"/>
<rect x="427" y="324" width="1" height="9" fill="#005800"/>
<rect x="426" y="326" width="1" height="4" fill="#00b000"/>
<rect x="427" y="326" width="1" height="4" fill="#007400"/>
<rect x="428" y="326" width="1" height="4" fill="#003800"/>
<rect x="426" y="329" width="3" height="1" fill="#003800"/>
<rect x="431" y="323" width="1" height="12" fill="#6a0000"/>
<rect x="430" y="326" width="1" height="3" fill="#d80000"/>
<rect x="431" y="326" width="1" height="3" fill="#a00000"/>
<rect x="432" y="326" width="1" height="3" fill="#400000"/>
<rect x="430" y="328" width="3" height="1" fill="#400000"/>
<rect x="435" y="320" width="1" height="15" fill="#6a0000"/>
<rect x="434" y="328" width="1" height="5" fill="#d80000"/>
<rect x="435" y="328" width="1" height="5" fill="#a00000"/>
<rect x="436" y="328" width="1" height="5" fill="#400000"/>
<rect x="434" y="332" width="3" height="1" fill="#400000"/>
<rect x="439" y="327" width="1" height="18" fill="#6a0000"/>
<rect x="438" y="329" width="1" height="14" fill="#d80000"/>
<rect x="439" y="329" width="1" height="14" fill="#a00000"/>
<rect x="440" y="329" width="1" height="14" fill="#400000"/>
<rect x="438" y="342" width="3" height="1" fill="#400000"/>
<rect x="443" y="339" width="1" height="15" fill="#6a0000"/>
<rect x="442" y="339" width="1" height="13" fill="#d80000"/>
<rect x="443" y="339" width="1" height="13" fill="#a00000"/>
<rect x="444" y="339" width="1" height="13" fill="#400000"/>
<rect x="442" y="351" width="3" height="1" fill="#400000"/>
<rect x="447" y="344" width="1" height="9" fill="#6a0000"/>
<rect x="446" y="349" width="1" height="2" fill="#d80000"/>
<rect x="447" y="349" width="1" height="2" fill="#a00000"/>
<rect x="448" y="349" width="1" height="2" fill="#400000"/>
<rect x="446" y="350" width="3" height="1" fill="#400000"/>
<rect x="451" y="346" width="1" height="17" fill="#6a0000"/>
<rect x="450" y="346" width="1" height="16" fill="#d80000"/>
<rect x="451" y="346" width="1" height="16" fill="#a00000"/>
<rect x="452" y="346" width="1" height="16" fill="#400000"/>
<rect x="450" y="361" width="3" height="1" fill="#400000"/>
<rect x="455" y="363" width="1" height="12" fill="#6a0000"/>
<rect x="454" y="363" width="1" height="6" fill="#d80000"/>
<rect x="455" y="363" width="1" height="6" fill="#a00000"/>
<rect x="456" y="363" width="1" height="6" fill="#400000"/>
<rect x="454" y="368" width="3" height="1" fill="#400000"/>
<rect x="459" y="370" width="1" height="14" fill="#6a0000"/>
<rect x="458" y="370" width="1" height="9" fill="#d80000"/>
<rect x="459" y="370" width="1" height="9" fill="#a00000"/>
<rect x="460" y="370" width="1" height="9" fill="#400000"/>
<rect x="458" y="378" width="3" height="1" fill="#400000"/>
<rect x="463" y="359" width="1" height="18" fill="#005800"/>
<rect x="462" y="365" width="1" height="11" fill="#00b000"/>
<rect x="463" y="365" width="1" height="11" fill="#007400"/>
<rect x="464" y="365" width="1" height="11" fill="#003800"/>
<rect x="462" y="375" width="3" height="1" fill="#003800"/>
<rect x="467" y="367" width="1" height="18" fill="#6a0000"/>
<rect x="466" y="368" width="1" height="5" fill="#d80000"/>
<rect x="467" y="368" width="1" height="5" fill="#a00000"/>
<rect x="468" y="368" width="1" height="5" fill="#400000"/>
<rect x="466" y="372" width="3" height="1" fill="#400000"/>
<rect x="471" y="371" width="1" height="20" fill="#6a0000"/>
<rect x="470" y="374" width="1" height="14" fill="#d80000"/>
<rect x="471" y="374" width="1" height="14" fill="#a00000"/>
<rect x="472" y="374" width="1" height="14" fill="#400000"/>
<rect x="470" y="387" width="3" height="1" fill="#400000"/>
<rect x="475" y="389" width="1" height="34" fill="#6a0000"/>
<rect x="474" y="389" width="1" height="33" fill="#d80000"/>
<rect x="475" y="389" width="1" height="33" fill="#a00000"/>
<rect x="476" y="389" width="1" height="33" fill="#400000"/>
<rect x="474" y="421" width="3" height="1" fill="#400000"/>
<rect x="479" y="422" width="1" height="42" fill="#6a0000"/>
<rect x="478" y="422" width="1" height="40" fill="#d80000"/>
<rect x="479" y="422" width="1" height="40" fill="#a00000"/>
<rect x="480" y="422" width="1" height="40" fill="#400000"/>
<rect x="478" y="461" width="3" height="1" fill="#400000"/>
<rect x="483" y="457" width="1" height="24" fill="#6a0000"/>
<rect x="482" y="459" width="1" height="10" fill="#d80000"/>
<rect x="483" y="459" width="1" height="10" fill="#a00000"/>
<rect x="484" y="459" width="1" height="10" fill="#400000"/>
<rect x="482" y="468" width="3" height="1" fill="#400000"/>
<rect x="487" y="466" width="1" height="63" fill="#6a0000"/>
<rect x="486" y="469" width="1" height="59" fill="#d80000"/>
<rect x="487" y="469" width="1" height="59" fill="#a00000"/>
<rect x="488" y="469" width="1" height="59" fill="#400000"/>
<rect x="486" y="527" width="3" height="1" fill="#400000"/>
<rect x="491" y="520" width="1" height="33" fill="#005800"/>
<rect x="490" y="542" width="1" height="2" fill="#00b000"/>
<rect x="491" y="542" width="1" height="2" fill="#007400"/>
<rect x="492" y="542" width="1" height="2" fill="#003800"/>
<rect x="490" y="543" width="3" height="1" fill="#003800"/>
<rect x="495" y="512" width="1" height="21" fill="#6a0000"/>
<rect x="494" y="524" width="1" height="3" fill="#d80000"/>
<rect x="495" y="524" width="1" height="3" fill="#a00000"/>
<rect x="496" y="524" width="1" height="3" fill="#400000"/>
<rect x="494" y="526" width="3" height="1" fill="#400000"/>
<rect x="499" y="524" width="1" height="18" fill="#6a0000"/>
<rect x="498" y="525" width="1" height="10" fill="#d80000"/>
<rect x="499" y="525" width="1" height="10" fill="#a00000"/>
<rect x="500" y="525" width="1" height="10" fill="#400000"/>
<rect x="498" y="534" width="3" height="1" fill="#400000"/>
<rect x="503" y="485" width="1" height="53" fill="#005800"/>
<rect x="502" y="486" width="1" height="47" fill="#00b000"/>
<rect x="503" y="486" width="1" height="47" fill="#007400"/>
<rect x="504" y="486" width="1" height="47" fill="#003800"/>
<rect x="502" y="532" width="3" height="1" fill="#003800"/>
<rect x="507" y="465" width="1" height="21" fill="#005800"/>
<rect x="506" y="479" width="1" height="2" fill="#00b000"/>
<rect x="507" y="479" width="1" height="2" fill="#007400"/>
<rect x="508" y="479" width="1" height="2" fill="#003800"/>
<rect x="506" y="480" width="3" height="1" fill="#003800"/>
<rect x="511" y="466" width="1" height="20" fill="#6a0000"/>
<rect x="510" y="476" width="1" height="4" fill="#d80000"/>
<rect x="511" y="476" width="1" height="4" fill="#a00000"/>
<rect x="512" y="476" width="1" height="4" fill="#400000"/>
<rect x="510" y="479" width="3" height="1" fill="#400000"/>
<rect x="515" y="477" width="1" height="40" fill="#6a0000"/>
<rect x="514" y="478" width="1" height="32" fill="#d80000"/>
<rect x="515" y="478" width="1" height="32" fill="#a00000"/>
<rect x="516" y="478" width="1" height="32" fill="#400000"/>
<rect x="514" y="509" width="3" height="1" fill="#400000"/>
<rect x="519" y="494" width="1" height="27" fill="#6a0000"/>
<rect x="518" y="504" width="1" height="12" fill="#d80000"/>
<rect x="519" y="504" width="1" height="12" fill="#a00000"/>
<rect x="520" y="504" width="1" height="12" fill="#400000"/>
<rect x="518" y="515" width="3" height="1" fill="#400000"/>
<rect x="523" y="532" width="1" height="39" fill="#6a0000"/>
<rect x="522" y="532" width="1" height="39" fill="#d80000"/>
<rect x="523" y="532" width="1" height="39" fill="#a00000"/>
<rect x="524" y="532" width="1" height="39" fill="#400000"/>
<rect x="522" y="570" width="3" height="1" fill="#400000"/>
<rect x="527" y="557" width="1" height="31" fill="#6a0000"/>
<rect x="526" y="565" width="1" height="23" fill="#d80000"/>
<rect x="527" y="565" width="1" height="23" fill="#a00000"/>
<rect x="528" y="565" width="1" height="23" fill="#400000"/>
<rect x="526" y="587" width="3" height="1" fill="#400000"/>
<rect x="531" y="557" width="1" height="49" fill="#005800"/>
<rect x="530" y="566" width="1" height="29" fill="#00b000"/>
<rect x="531" y="566" width="1" height="29" fill="#007400"/>
<rect x="532" y="566" width="1" height="29" fill="#003800"/>
<rect x="530" y="594" width="3" height="1" fill="#003800"/>
<rect x="535" y="572" width="1" height="30" fill="#6a0000"/>
<rect x="534" y="572" width="1" height="10" fill="#d80000"/>
<rect x="535" y="572" width="1" height="10" fill="#a00000"/>
<rect x="536" y="572" width="1" height="10" fill="#400000"/>
<rect x="534" y="581" width="3" height="1" fill="#400000"/>
<rect x="539" y="529" width="1" height="51" fill="#005800"/>
<rect x="538" y="549" width="1" height="31" fill="#00b000"/>
<rect x="539" y="549" width="1" height="31" fill="#007400"/>
<rect x="540" y="549" width="1" height="31" fill="#003800"/>
<rect x="538" y="579" width="3" height="1" fill="#003800"/>
<rect x="543" y="536" width="1" height="25" fill="#6a0000"/>
<rect x="542" y="544" width="1" height="2" fill="#d80000"/>
<rect x="543" y="544" width="1" height="2" fill="#a00000"/>
<rect x="544" y="544" width="1" height="2" fill="#400000"/>
<rect x="542" y="545" width="3" height="1" fill="#400000"/>
<rect x="547" y="497" width="1" height="26" fill="#005800"/>
<rect x="546" y="504" width="1" height="18" fill="#00b000"/>
<rect x="547" y="504" width="1" height="18" fill="#007400"/>
<rect x="548" y="504" width="1" height="18" fill="#003800"/>
<rect x="546" y="521" width="3" height="1" fill="#003800"/>
<rect x="551" y="476" width="1" height="28" fill="#005800"/>
<rect x="550" y="483" width="1" height="20" fill="#00b000"/>
<rect x="551" y="483" width="1" height="20" fill="#007400"/>
<rect x="552" y="483" width="1" height="20" fill="#003800"/>
<rect x="550" y="502" width="3" height="1" fill="#003800"/>
<rect x="555" y="441" width="1" height="23" fill="#005800"/>
<rect x="554" y="461" width="1" height="3" fill="#00b000"/>
<rect x="555" y="461" width="1" height="3" fill="#007400"/>
<rect x="556" y="461" width="1" height="3" fill="#003800"/>
<rect x="554" y="463" width="3" height="1" fill="#003800"/>
<rect x="559" y="456" width="1" height="33" fill="#6a0000"/>
<rect x="558" y="456" width="1" height="30" fill="#d80000"/>
<rect x="559" y="456" width="1" height="30" fill="#a00000"/>
<rect x="560" y="456" width="1" height="30" fill="#400000"/>
<rect x="558" y="485" width="3" height="1" fill="#400000"/>
<rect x="563" y="478" width="1" height="14" fill="#6a0000"/>
<rect x="562" y="481" width="1" height="6" fill="#d80000"/>
<rect x="563" y="481" width="1" height="6" fill="#a00000"/>
<rect x="564" y="481" width="1" height="6" fill="#400000"/>
<rect x="562" y="486" width="3" height="1" fill="#400000"/>
<rect x="567" y="463" width="1" height="16" fill="#005800"/>
<rect x="566" y="472" width="1" height="6" fill="#00b000"/>
<rect x="567" y="472" width="1" height="6" fill="#007400"/>
<rect x="568" y="472" width="1" height="6" fill="#003800"/>
<rect x="566" y="477" width="3" height="1" fill="#003800"/>
<rect x="571" y="459" width="1" height="29" fill="#6a0000"/>
<rect x="570" y="463" width="1" height="23" fill="#d80000"/>
<rect x="571" y="463" width="1" height="23" fill="#a00000"/>
<rect x="572" y="463" width="1" height="23" fill="#400000"/>
<rect x="570" y="485" width="3" height="1" fill="#400000"/>
<rect x="575" y="486" width="1" height="21" fill="#6a0000"/>
<rect x="574" y="489" width="1" height="5" fill="#d80000"/>
<rect x="575" y="489" width="1" height="5" fill="#a00000"/>
<rect x="576" y="489" width="1" height="5" fill="#400000"/>
<rect x="574" y="493" width="3" height="1" fill="#400000"/>
<rect x="579" y="482" width="1" height="58" fill="#6a0000"/>
<rect x="578" y="488" width="1" height="52" fill="#d80000"/>
<rect x="579" y="488" width="1" height="52" fill="#a00000"/>
<rect x="580" y="488" width="1" height="52" fill="#400000"/>
<rect x="578" y="539" width="3" height="1" fill="#400000"/>
<rect x="583" y="524" width="1" height="19" fill="#005800"/>
<rect x="582" y="527" width="1" height="9" fill="#00b000"/>
<rect x="583" y="527" width="1" height="9" fill="#007400"/>
<rect x="584" y="527" width="1" height="9" fill="#003800"/>
<rect x="582" y="535" width="3" height="1" fill="#003800"/>
<rect x="587" y="527" width="1" height="31" fill="#6a0000"/>
<rect x="586" y="532" width="1" height="16" fill="#d80000"/>
<rect x="587" y="532" width="1" height="16" fill="#a00000"/>
<rect x="588" y="532" width="1" height="16" fill="#400000"/>
<rect x="586" y="547" width="3" height="1" fill="#400000"/>
<rect x="591" y="537" width="1" height="43" fill="#6a0000"/>
<rect x="590" y="546" width="1" height="23" fill="#d80000"/>
<rect x="591" y="546" width="1" height="23" fill="#a00000"/>
<rect x="592" y="546" width="1" height="23" fill="#400000"/>
<rect x="590" y="568" width="3" height="1" fill="#400000"/>
<rect x="595" y="554" width="1" height="34" fill="#6a0000"/>
<rect x="594" y="564" width="1" height="14" fill="#d80000"/>
<rect x="595" y="564" width="1" height="14" fill="#a00000"/>
<rect x="596" y="564" width="1" height="14" fill="#400000"/>
<rect x="594" y="577" width="3" height="1" fill="#400000"/>
<rect x="599" y="560" width="1" height="43" fill="#6a0000"/>
<rect x="598" y="575" width="1" height="27" fill="#d80000"/>
<rect x="599" y="575" width="1" height="27" fill="#a00000"/>
<rect x="600" y="575" width="1" height="27" fill="#400000"/>
<rect x="598" y="601" width="3" height="1" fill="#400000"/>
<rect x="603" y="611" width="1" height="45" fill="#6a0000"/>
<rect x="602" y="612" width="1" height="24" fill="#d80000"/>
<rect x="603" y="612" width="1" height="24" fill="#a00000"/>
<rect x="604" y="612" width="1" height="24" fill="#400000"/>
<rect x="602" y="635" width="3" height="1" fill="#400000"/>
<rect x="607" y="608" width="1" height="26" fill="#005800"/>
<rect x="606" y="609" width="1" height="18" fill="#00b000"/>
<rect x="607" y="609" width="1" height="18" fill="#007400"/>
<rect x="608" y="609" width="1" height="18" fill="#003800"/>
<rect x="606" y="626" width="3" height="1" fill="#003800"/>
<rect x="611" y="607" width="1" height="17" fill="#6a0000"/>
<rect x="610" y="607" width="1" height="10" fill="#d80000"/>
<rect x="611" y="607" width="1" height="10" fill="#a00000"/>
<rect x="612" y="607" width="1" height="10" fill="#400000"/>
<rect x="610" y="616" width="3" height="1" fill="#400000"/>
<rect x="615" y="608" width="1" height="16" fill="#005800"/>
<rect x="614" y="609" width="1" height="9" fill="#00b000"/>
<rect x="615" y="609" width="1" height="9" fill="#007400"/>
<rect x="616" y="609" width="1" height="9" fill="#003800"/>
<rect x="614" y="617" width="3" height="1" fill="#003800"/>
<rect x="619" y="582" width="1" height="18" fill="#005800"/>
<rect x="618" y="584" width="1" height="14" fill="#00b000"/>
<rect x="619" y="584" width="1" height="14" fill="#007400"/>
<rect x="620" y="584" width="1" height="14" fill="#003800"/>
<rect x="618" y="597" width="3" height="1" fill="#003800"/>
<rect x="623" y="578" width="1" height="24" fill="#6a0000"/>
<rect x="622" y="583" width="1" height="13" fill="#d80000"/>
<rect x="623" y="583" width="1" height="13" fill="#a00000"/>
<rect x="624" y="583" width="1" height="13" fill="#400000"/>
<rect x="622" y="595" width="3" height="1" fill="#400000"/>
<rect x="627" y="582" width="1" height="13" fill="#005800"/>
<rect x="626" y="585" width="1" height="5" fill="#00b000"/>
<rect x="627" y="585" width="1" height="5" fill="#007400"/>
<rect x="628" y="585" width="1" height="5" fill="#003800"/>
<rect x="626" y="589" width="3" height="1" fill="#003800"/>
<rect x="631" y="558" width="1" height="22" fill="#005800"/>
<rect x="630" y="574" width="1" height="5" fill="#00b000"/>
<rect x="631" y="574" width="1" height="5" fill="#007400"/>
<rect x="632" y="574" width="1" height="5" fill="#003800"/>
<rect x="630" y="578" width="3" height="1" fill="#003800"/>
<rect x="635" y="570" width="1" height="25" fill="#6a0000"/>
<rect x="634" y="571" width="1" height="20" fill="#d80000"/>
<rect x="635" y="571" width="1" height="20" fill="#a00000"/>
<rect x="636" y="571" width="1" height="20" fill="#400000"/>
<rect x="634" y="590" width="3" height="1" fill="#400000"/>
<rect x="639" y="550" width="1" height="17" fill="#6a0000"/>
<rect x="638" y="565" width="1" height="2" fill="#d80000"/>
<rect x="639" y="565" width="1" height="2" fill="#a00000"/>
<rect x="640" y="565" width="1" height="2" fill="#400000"/>
<rect x="638" y="566" width="3" height="1" fill="#400000"/>
<rect x="643" y="569" width="1" height="32" fill="#6a0000"/>
<rect x="642" y="570" width="1" height="30" fill="#d80000"/>
<rect x="643" y="570" width="1" height="30" fill="#a00000"/>
<rect x="644" y="570" width="1" height="30" fill="#400000"/>
<rect x="642" y="599" width="3" height="1" fill="#400000"/>
<rect x="647" y="604" width="1" height="19" fill="#6a0000"/>
<rect x="646" y="604" width="1" height="14" fill="#d80000"/>
<rect x="647" y="604" width="1" height="14" fill="#a00000"/>
<rect x="648" y="604" width="1" height="14" fill="#400000"/>
<rect x="646" y="617" width="3" height="1" fill="#400000"/>
<rect x="651" y="628" width="1" height="46" fill="#6a0000"/>
<rect x="650" y="628" width="1" height="43" fill="#d80000"/>
<rect x="651" y="628" width="1" height="43" fill="#a00000"/>
<rect x="652" y="628" width="1" height="43" fill="#400000"/>
<rect x="650" y="670" width="3" height="1" fill="#400000"/>
<rect x="655" y="648" width="1" height="25" fill="#6a0000"/>
<rect x="654" y="661" width="1" height="11" fill="#d80000"/>
<rect x="655" y="661" width="1" height="11" fill="#a00000"/>
<rect x="656" y="661" width="1" height="11" fill="#400000"/>
<rect x="654" y="671" width="3" height="1" fill="#400000"/>
<rect x="659" y="678" width="1" height="48" fill="#6a0000"/>
<rect x="658" y="679" width="1" height="44" fill="#d80000"/>
<rect x="659" y="679" width="1" height="44" fill="#a00000"/>
<rect x="660" y="679" width="1" height="44" fill="#400000"/>
<rect x="658" y="722" width="3" height="1" fill="#400000"/>
<rect x="663" y="693" width="1" height="25" fill="#005800"/>
<rect x="662" y="706" width="1" height="10" fill="#00b000"/>
<rect x="663" y="706" width="1" height="10" fill="#007400"/>
<rect x="664" y="706" width="1" height="10" fill="#003800"/>
<rect x="662" y="715" width="3" height="1" fill="#003800"/>
<rect x="667" y="669" width="1" height="36" fill="#005800"/>
<rect x="666" y="669" width="1" height="29" fill="#00b000"/>
<rect x="667" y="669" width="1" height="29" fill="#007400"/>
<rect x="668" y="669" width="1" height="29" fill="#003800"/>
<rect x="666" y="697" width="3" height="1" fill="#003800"/>
<rect x="671" y="662" width="1" height="23" fill="#6a0000"/>
<rect x="670" y="664" width="1" height="7" fill="#d80000"/>
<rect x="671" y="664" width="1" height="7" fill="#a00000"/>
<rect x="672" y="664" width="1" height="7" fill="#400000"/>
<rect x="670" y="670" width="3" height="1" fill="#400000"/>
<rect x="675" y="681" width="1" height="30" fill="#6a0000"/>
<rect x="674" y="681" width="1" height="12" fill="#d80000"/>
<rect x="675" y="681" width="1" height="12" fill="#a00000"/>
<rect x="676" y="681" width="1" height="12" fill="#400000"/>
<rect x="674" y="692" width="3" height="1" fill="#400000"/>
<rect x="679" y="692" width="1" height="48" fill="#6a0000"/>
<rect x="678" y="693" width="1" height="36" fill="#d80000"/>
<rect x="679" y="693" width="1" height="36" fill="#a00000"/>
<rect x="680" y="693" width="1" height="36" fill="#400000"/>
<rect x="678" y="728" width="3" height="1" fill="#400000"/>
<rect x="683" y="716" width="1" height="30" fill="#005800"/>
<rect x="682" y="731" width="1" height="3" fill="#00b000"/>
<rect x="683" y="731" width="1" height="3" fill="#007400"/>
<rect x="684" y="731" width="1" height="3" fill="#003800"/>
<rect x="682" y="733" width="3" height="1" fill="#003800"/>
<rect x="687" y="727" width="1" height="15" fill="#6a0000"/>
<rect x="686" y="728" width="1" height="11" fill="#d80000"/>
<rect x="687" y="728" width="1" height="11" fill="#a00000"/>
<rect x="688" y="728" width="1" height="11" fill="#400000"/>
<rect x="686" y="738" width="3" height="1" fill="#400000"/>
<rect x="691" y="749" width="1" height="23" fill="#6a0000"/>
<rect x="690" y="754" width="1" height="17" fill="#d80000"/>
<rect x="691" y="754" width="1" height="17" fill="#a00000"/>
<rect x="692" y="754" width="1" height="17" fill="#400000"/>
<rect x="690" y="770" width="3" height="1" fill="#400000"/>
<rect x="695" y="757" width="1" height="24" fill="#005800"/>
<rect x="694" y="764" width="1" height="16" fill="#00b000"/>
<rect x="695" y="764" width="1" height="16" fill="#007400"/>
<rect x="696" y="764" width="1" height="16" fill="#003800"/>
<rect x="694" y="779" width="3" height="1" fill="#003800"/>
<rect x="699" y="757" width="1" height="24" fill="#005800"/>
<rect x="698" y="764" width="1" height="16" fill="#00b000"/>
<rect x="699" y="764" width="1" height="16" fill="#007400"/>
<rect x="700" y="764" width="1" height="16" fill="#003800"/>
<rect x="698" y="779" width="3" height="1" fill="#003800"/>
<rect x="703" y="748" width="1" height="56" fill="#6a0000"/>
<rect x="702" y="761" width="1" height="34" fill="#d80000"/>
<rect x="703" y="761" width="1" height="34" fill="#a00000"/>
<rect x="704" y="761" width="1" height="34" fill="#400000"/>
<rect x="702" y="794" width="3" height="1" fill="#400000"/>
<rect x="707" y="755" width="1" height="32" fill="#005800"/>
<rect x="706" y="760" width="1" height="27" fill="#00b000"/>
<rect x="707" y="760" width="1" height="27" fill="#007400"/>
<rect x="708" y="760" width="1" height="27" fill="#003800"/>
<rect x="706" y="786" width="3" height="1" fill="#003800"/>
<rect x="711" y="742" width="1" height="40" fill="#005800"/>
<rect x="710" y="748" width="1" height="11" fill="#00b000"/>
<rect x="711" y="748" width="1" height="11" fill="#007400"/>
<rect x="712" y="748" width="1" height="11" fill="#003800"/>
<rect x="710" y="758" width="3" height="1" fill="#003800"/>
<rect x="715" y="751" width="1" height="40" fill="#6a0000"/>
<rect x="714" y="751" width="1" height="36" fill="#d80000"/>
<rect x="715" y="751" width="1" height="36" fill="#a00000"/>
<rect x="716" y="751" width="1" height="36" fill="#400000"/>
<rect x="714" y="786" width="3" height="1" fill="#400000"/>
<rect x="719" y="725" width="1" height="51" fill="#005800"/>
<rect x="718" y="728" width="1" height="47" fill="#00b000"/>
<rect x="719" y="728" width="1" height="47" fill="#007400"/>
<rect x="720" y="728" width="1" height="47" fill="#003800"/>
<rect x="718" y="774" width="3" height="1" fill="#003800"/>
<rect x="723" y="697" width="1" height="20" fill="#005800"/>
<rect x="722" y="697" width="1" height="20" fill="#00b000"/>
<rect x="723" y="697" width="1" height="20" fill="#007400"/>
<rect x="724" y="697" width="1" height="20" fill="#003800"/>
<rect x="722" y="716" width="3" height="1" fill="#003800"/>
<rect x="727" y="671" width="1" height="28" fill="#005800"/>
<rect x="726" y="684" width="1" height="9" fill="#00b000"/>
<rect x="727" y="684" width="1" height="9" fill="#007400"/>
<rect x="728" y="684" width="1" height="9" fill="#003800"/>
<rect x="726" y="692" width="3" height="1" fill="#003800"/>
<rect x="731" y="644" width="1" height="32" fill="#005800"/>
<rect x="730" y="655" width="1" height="20" fill="#00b000"/>
<rect x="731" y="655" width="1" height="20" fill="#007400"/>
<rect x="732" y="655" width="1" height="20" fill="#003800"/>
<rect x="730" y="674" width="3" height="1" fill="#003800"/>
<rect x="735" y="652" width="1" height="20" fill="#6a0000"/>
<rect x="734" y="657" width="1" height="3" fill="#d80000"/>
<rect x="735" y="657" width="1" height="3" fill="#a00000"/>
<rect x="736" y="657" width="1" height="3" fill="#400000"/>
<rect x="734" y="659" width="3" height="1" fill="#400000"/>
<rect x="739" y="651" width="1" height="21" fill="#6a0000"/>
<rect x="738" y="652" width="1" height="16" fill="#d80000"/>
<rect x="739" y="652" width="1" height="16" fill="#a00000"/>
<rect x="740" y="652" width="1" height="16" fill="#400000"/>
<rect x="738" y="667" width="3" height="1" fill="#400000"/>
<rect x="743" y="671" width="1" height="17" fill="#6a0000"/>
<rect x="742" y="675" width="1" height="8" fill="#d80000"/>
<rect x="743" y="675" width="1" height="8" fill="#a00000"/>
<rect x="744" y="675" width="1" height="8" fill="#400000"/>
<rect x="742" y="682" width="3" height="1" fill="#400000"/>
<rect x="747" y="662" width="1" height="17" fill="#005800"/>
<rect x="746" y="668" width="1" height="9" fill="#00b000"/>
<rect x="747" y="668" width="1" height="9" fill="#007400"/>
<rect x="748" y="668" width="1" height="9" fill="#003800"/>
<rect x="746" y="676" width="3" height="1" fill="#003800"/>
<rect x="751" y="654" width="1" height="15" fill="#005800"/>
<rect x="750" y="654" width="1" height="8" fill="#00b000"/>
<rect x="751" y="654" width="1" height="8" fill="#007400"/>
<rect x="752" y="654" width="1" height="8" fill="#003800"/>
<rect x="750" y="661" width="3" height="1" fill="#003800"/>
<rect x="755" y="653" width="1" height="15" fill="#005800"/>
<rect x="754" y="655" width="1" height="7" fill="#00b000"/>
<rect x="755" y="655" width="1" height="7" fill="#007400"/>
<rect x="756" y="655" width="1" height="7" fill="#003800"/>
<rect x="754" y="661" width="3" height="1" fill="#003800"/>
<rect x="759" y="614" width="1" height="32" fill="#005800"/>
<rect x="758" y="615" width="1" height="31" fill="#00b000"/>
<rect x="759" y="615" width="1" height="31" fill="#007400"/>
<rect x="760" y="615" width="1" height="31" fill="#003800"/>
<rect x="758" y="645" width="3" height="1" fill="#003800"/>
<rect x="763" y="604" width="1" height="11" fill="#005800"/>
<rect x="762" y="608" width="1" height="6" fill="#00b000"/>
<rect x="763" y="608" width="1" height="6" fill="#007400"/>
<rect x="764" y="608" width="1" height="6" fill="#003800"/>
<rect x="762" y="613" width="3" height="1" fill="#003800"/>
<rect x="767" y="603" width="1" height="18" fill="#6a0000"/>
<rect x="766" y="609" width="1" height="8" fill="#d80000"/>
<rect x="767" y="609" width="1" height="8" fill="#a00000"/>
<rect x="768" y="609" width="1" height="8" fill="#400000"/>
<rect x="766" y="616" width="3" height="1" fill="#400000"/>
<rect x="771" y="598" width="1" height="27" fill="#005800"/>
<rect x="770" y="606" width="1" height="11" fill="#00b000"/>
<rect x="771" y="606" width="1" height="11" fill="#007400"/>
<rect x="772" y="606" width="1" height="11" fill="#003800"/>
<rect x="770" y="616" width="3" height="1" fill="#003800"/>
<rect x="775" y="591" width="1" height="17" fill="#005800"/>
<rect x="774" y="593" width="1" height="11" fill="#00b000"/>
<rect x="775" y="593" width="1" height="11" fill="#007400"/>
<rect x="776" y="593" width="1" height="11" fill="#003800"/>
<rect x="774" y="603" width="3" height="1" fill="#003800"/>
<rect x="779" y="568" width="1" height="16" fill="#005800"/>
<rect x="778" y="571" width="1" height="13" fill="#00b000"/>
<rect x="779" y="571" width="1" height="13" fill="#007400"/>
<rect x="780" y="571" width="1" height="13" fill="#003800"/>
<rect x="778" y="583" width="3" height="1" fill="#003800"/>
<rect x="783" y="567" width="1" height="16" fill="#6a0000"/>
<rect x="782" y="570" width="1" height="9" fill="#d80000"/>
<rect x="783" y="570" width="1" height="9" fill="#a00000"/>
<rect x="784" y="570" width="1" height="9" fill="#400000"/>
<rect x="782" y="578" width="3" height="1" fill="#400000"/>
<rect x="787" y="578" width="1" height="12" fill="#6a0000"/>
<rect x="786" y="579" width="1" height="9" fill="#d80000"/>
<rect x="787" y="579" width="1" height="9" fill="#a00000"/>
<rect x="788" y="579" width="1" height="9" fill="#400000"/>
<rect x="786" y="587" width="3" height="1" fill="#400000"/>
<rect x="791" y="581" width="1" height="10" fill="#6a0000"/>
<rect x="790" y="583" width="1" height="2" fill="#d80000"/>
<rect x="791" y="583" width="1" height="2" fill="#a00000"/>
<rect x="792" y="583" width="1" height="2" fill="#400000"/>
<rect x="790" y="584" width="3" height="1" fill="#400000"/>
<rect x="795" y="576" width="1" height="15" fill="#6a0000"/>
<rect x="794" y="577" width="1" height="3" fill="#d80000"/>
<rect x="795" y="577" width="1" height="3" fill="#a00000"/>
<rect x="796" y="577" width="1" height="3" fill="#400000"/>
<rect x="794" y="579" width="3" height="1" fill="#400000"/>
<rect x="799" y="570" width="1" height="17" fill="#6a0000"/>
<rect x="798" y="572" width="1" height="10" fill="#d80000"/>
<rect x="799" y="572" width="1" height="10" fill="#a00000"/>
<rect x="800" y="572" width="1" height="10" fill="#400000"/>
<rect x="798" y="581" width="3" height="1" fill="#400000"/>
<rect x="803" y="577" width="1" height="13" fill="#6a0000"/>
<rect x="802" y="578" width="1" height="5" fill="#d80000"/>
<rect x="803" y="578" width="1" height="5" fill="#a00000"/>
<rect x="804" y="578" width="1" height="5" fill="#400000"/>
<rect x="802" y="582" width="3" height="1" fill="#400000"/>
<rect x="807" y="560" width="1" height="21" fill="#005800"/>
<rect x="806" y="561" width="1" height="16" fill="#00b000"/>
<rect x="807" y="561" width="1" height="16" fill="#007400"/>
<rect x="808" y="561" width="1" height="16" fill="#003800"/>
<rect x="806" y="576" width="3" height="1" fill="#003800"/>
<rect x="811" y="546" width="1" height="15" fill="#005800"/>
<rect x="810" y="549" width="1" height="10" fill="#00b000"/>
<rect x="811" y="549" width="1" height="10" fill="#007400"/>
<rect x="812" y="549" width="1" height="10" fill="#003800"/>
<rect x="810" y="558" width="3" height="1" fill="#003800"/>
<rect x="815" y="553" width="1" height="28" fill="#6a0000"/>
<rect x="814" y="553" width="1" height="27" fill="#d80000"/>
<rect x="815" y="553" width="1" height="27" fill="#a00000"/>
<rect x="816" y="553" width="1" height="27" fill="#400000"/>
<rect x="814" y="579" width="3" height="1" fill="#400000"/>
<rect x="819" y="584" width="1" height="39" fill="#6a0000"/>
<rect x="818" y="584" width="1" height="34" fill="#d80000"/>
<rect x="819" y="584" width="1" height="34" fill="#a00000"/>
<rect x="820" y="584" width="1" height="34" fill="#400000"/>
<rect x="818" y="617" width="3" height="1" fill="#400000"/>
<rect x="823" y="603" width="1" height="8" fill="#005800"/>
<rect x="822" y="604" width="1" height="7" fill="#00b000"/>
<rect x="823" y="604" width="1" height="7" fill="#007400"/>
<rect x="824" y="604" width="1" height="7" fill="#003800"/>
<rect x="822" y="610" width="3" height="1" fill="#003800"/>
<rect x="827" y="581" width="1" height="12" fill="#005800"/>
<rect x="826" y="582" width="1" height="11" fill="#00b000"/>
<rect x="827" y="582" width="1" height="11" fill="#007400"/>
<rect x="828" y="582" width="1" height="11" fill="#003800"/>
<rect x="826" y="592" width="3" height="1" fill="#003800"/>
<rect x="831" y="558" width="1" height="17" fill="#005800"/>
<rect x="830" y="571" width="1" height="3" fill="#00b000"/>
<rect x="831" y="571" width="1" height="3" fill="#007400"/>
<rect x="832" y="571" width="1" height="3" fill="#003800"/>
<rect x="830" y="573" width="3" height="1" fill="#003800"/>
<rect x="835" y="558" width="1" height="16" fill="#6a0000"/>
<rect x="834" y="563" width="1" height="6" fill="#d80000"/>
<rect x="835" y="563" width="1" height="6" fill="#a00000"/>
<rect x="836" y="563" width="1" height="6" fill="#400000"/>
<rect x="834" y="568" width="3" height="1" fill="#400000"/>
<rect x="839" y="553" width="1" height="23" fill="#005800"/>
<rect x="838" y="554" width="1" height="15" fill="#00b000"/>
<rect x="839" y="554" width="1" height="15" fill="#007400"/>
<rect x="840" y="554" width="1" height="15" fill="#003800"/>
<rect x="838" y="568" width="3" height="1" fill="#003800"/>
<rect x="843" y="538" width="1" height="15" fill="#005800"/>
<rect x="842" y="539" width="1" height="13" fill="#00b000"/>
<rect x="843" y="539" width="1" height="13" fill="#007400"/>
<rect x="844" y="539" width="1" height="13" fill="#003800"/>
<rect x="842" y="551" width="3" height="1" fill="#003800"/>
<rect x="847" y="533" width="1" height="14" fill="#005800"/>
<rect x="846" y="539" width="1" height="2" fill="#00b000"/>
<rect x="847" y="539" width="1" height="2" fill="#007400"/>
<rect x="848" y="539" width="1" height="2" fill="#003800"/>
<rect x="846" y="540" width="3" height="1" fill="#003800"/>
<rect x="851" y="530" width="1" height="8" fill="#005800"/>
<rect x="850" y="532" width="1" height="5" fill="#00b000"/>
<rect x="851" y="532" width="1" height="5" fill="#007400"/>
<rect x="852" y="532" width="1" height="5" fill="#003800"/>
<rect x="850" y="536" width="3" height="1" fill="#003800"/>
<rect x="855" y="526" width="1" height="12" fill="#6a0000"/>
<rect x="854" y="527" width="1" height="4" fill="#d80000"/>
<rect x="855" y="527" width="1" height="4" fill="#a00000"/>
<rect x="856" y="527" width="1" height="4" fill="#400000"/>
<rect x="854" y="530" width="3" height="1" fill="#400000"/>
<rect x="859" y="526" width="1" height="6" fill="#6a0000"/>
<rect x="858" y="530" width="1" height="2" fill="#d80000"/>
<rect x="859" y="530" width="1" height="2" fill="#a00000"/>
<rect x="860" y="530" width="1" height="2" fill="#400000"/>
<rect x="858" y="531" width="3" height="1" fill="#400000"/>
<rect x="863" y="518" width="1" height="10" fill="#005800"/>
<rect x="862" y="524" width="1" height="2" fill="#00b000"/>
<rect x="863" y="524" width="1" height="2" fill="#007400"/>
<rect x="864" y="524" width="1" height="2" fill="#003800"/>
<rect x="862" y="525" width="3" height="1" fill="#003800"/>
<rect x="867" y="526" width="1" height="7" fill="#6a0000"/>
<rect x="866" y="527" width="1" height="5" fill="#d80000"/>
<rect x="867" y="527" width="1" height="5" fill="#a00000"/>
<rect x="868" y="527" width="1" height="5" fill="#400000"/>
<rect x="866" y="531" width="3" height="1" fill="#400000"/>
<rect x="871" y="532" width="1" height="12" fill="#6a0000"/>
<rect x="870" y="533" width="1" height="7" fill="#d80000"/>
<rect x="871" y="533" width="1" height="7" fill="#a00000"/>
<rect x="872" y="533" width="1" height="7" fill="#400000"/>
<rect x="870" y="539" width="3" height="1" fill="#400000"/>
<rect x="875" y="540" width="1" height="9" fill="#005800"/>
<rect x="874" y="541" width="1" height="5" fill="#00b000"/>
<rect x="875" y="541" width="1" height="5" fill="#007400"/>
<rect x="876" y="541" width="1" height="5" fill="#003800"/>
<rect x="874" y="545" width="3" height="1" fill="#003800"/>
<rect x="879" y="514" width="1" height="17" fill="#005800"/>
<rect x="878" y="518" width="1" height="13" fill="#00b000"/>
<rect x="879" y="518" width="1" height="13" fill="#007400"/>
<rect x="880" y="518" width="1" height="13" fill="#003800"/>
<rect x="878" y="530" width="3" height="1" fill="#003800"/>
<rect x="883" y="504" width="1" height="9" fill="#6a0000"/>
<rect x="882" y="508" width="1" height="5" fill="#d80000"/>
<rect x="883" y="508" width="1" height="5" fill="#a00000"/>
<rect x="884" y="508" width="1" height="5" fill="#400000"/>
<rect x="882" y="512" width="3" height="1" fill="#400000"/>
<rect x="887" y="512" width="1" height="15" fill="#6a0000"/>
<rect x="886" y="512" width="1" height="8" fill="#d80000"/>
<rect x="887" y="512" width="1" height="8" fill="#a00000"/>
<rect x="888" y="512" width="1" height="8" fill="#400000"/>
<rect x="886" y="519" width="3" height="1" fill="#400000"/>
<rect x="891" y="514" width="1" height="11" fill="#6a0000"/>
<rect x="890" y="517" width="1" height="8" fill="#d80000"/>
<rect x="891" y="517" width="1" height="8" fill="#a00000"/>
<rect x="892" y="517" width="1" height="8" fill="#400000"/>
<rect x="890" y="524" width="3" height="1" fill="#400000"/>
<rect x="895" y="525" width="1" height="31" fill="#6a0000"/>
<rect x="894" y="525" width="1" height="24" fill="#d80000"/>
<rect x="895" y="525" width="1" height="24" fill="#a00000"/>
<rect x="896" y="525" width="1" height="24" fill="#400000"/>
<rect x="894" y="548" width="3" height="1" fill="#400000"/>
<rect x="899" y="558" width="1" height="16" fill="#6a0000"/>
<rect x="898" y="558" width="1" height="6" fill="#d80000"/>
<rect x="899" y="558" width="1" height="6" fill="#a00000"/>
<rect x="900" y="558" width="1" height="6" fill="#400000"/>
<rect x="898" y="563" width="3" height="1" fill="#400000"/>
<rect x="903" y="549" width="1" height="16" fill="#005800"/>
<rect x="902" y="549" width="1" height="9" fill="#00b000"/>
<rect x="903" y="549" width="1" height="9" fill="#007400"/>
<rect x="904" y="549" width="1" height="9" fill="#003800"/>
<rect x="902" y="557" width="3" height="1" fill="#003800"/>
<rect x="907" y="536" width="1" height="10" fill="#005800"/>
<rect x="906" y="541" width="1" height="3" fill="#00b000"/>
<rect x="907" y="541" width="1" height="3" fill="#007400"/>
<rect x="908" y="541" width="1" height="3" fill="#003800"/>
<rect x="906" y="543" width="3" height="1" fill="#003800"/>
<rect x="911" y="540" width="1" height="10" fill="#005800"/>
<rect x="910" y="541" width="1" height="2" fill="#00b000"/>
<rect x="911" y="541" width="1" height="2" fill="#007400"/>
<rect x="912" y="541" width="1" height="2" fill="#003800"/>
<rect x="910" y="542" width="3" height="1" fill="#003800"/>
<rect x="915" y="532" width="1" height="10" fill="#005800"/>
<rect x="914" y="533" width="1" height="7" fill="#00b000"/>
<rect x="915" y="533" width="1" height="7" fill="#007400"/>
<rect x="916" y="533" width="1" height="7" fill="#003800"/>
<rect x="914" y="539" width="3" height="1" fill="#003800"/>
<rect x="919" y="522" width="1" height="12" fill="#005800"/>
<rect x="918" y="523" width="1" height="10" fill="#00b000"/>
<rect x="919" y="523" width="1" height="10" fill="#007400"/>
<rect x="920" y="523" width="1" height="10" fill="#003800"/>
<rect x="918" y="532" width="3" height="1" fill="#003800"/>
<rect x="923" y="517" width="1" height="16" fill="#6a0000"/>
<rect x="922" y="519" width="1" height="4" fill="#d80000"/>
<rect x="923" y="519" width="1" height="4" fill="#a00000"/>
<rect x="924" y="519" width="1" height="4" fill="#400000"/>
<rect x="922" y="522" width="3" height="1" fill="#400000"/>
<rect x="927" y="497" width="1" height="24" fill="#005800"/>
<rect x="926" y="498" width="1" height="23" fill="#00b000"/>
<rect x="927" y="498" width="1" height="23" fill="#007400"/>
<rect x="928" y="498" width="1" height="23" fill="#003800"/>
<rect x="926" y="520" width="3" height="1" fill="#003800"/>
<rect x="931" y="498" width="1" height="27" fill="#6a0000"/>
<rect x="930" y="498" width="1" height="26" fill="#d80000"/>
<rect x="931" y="498" width="1" height="26" fill="#a00000"/>
<rect x="932" y="498" width="1" height="26" fill="#400000"/>
<rect x="930" y="523" width="3" height="1" fill="#400000"/>
<rect x="935" y="522" width="1" height="12" fill="#6a0000"/>
<rect x="934" y="524" width="1" height="2" fill="#d80000"/>
<rect x="935" y="524" width="1" height="2" fill="#a00000"/>
<rect x="936" y="524" width="1" height="2" fill="#400000"/>
<rect x="934" y="525" width="3" height="1" fill="#400000"/>
<rect x="939" y="511" width="1" height="31" fill="#6a0000"/>
<rect x="938" y="518" width="1" height="24" fill="#d80000"/>
<rect x="939" y="518" width="1" height="24" fill="#a00000"/>
<rect x="940" y="518" width="1" height="24" fill="#400000"/>
<rect x="938" y="541" width="3" height="1" fill="#400000"/>
<rect x="943" y="546" width="1" height="15" fill="#6a0000"/>
<rect x="942" y="547" width="1" height="4" fill="#d80000"/>
<rect x="943" y="547" width="1" height="4" fill="#a00000"/>
<rect x="944" y="547" width="1" height="4" fill="#400000"/>
<rect x="942" y="550" width="3" height="1" fill="#400000"/>
<rect x="947" y="545" width="1" height="12" fill="#6a0000"/>
<rect x="946" y="546" width="1" height="4" fill="#d80000"/>
<rect x="947" y="546" width="1" height="4" fill="#a00000"/>
<rect x="948" y="546" width="1" height="4" fill="#400000"/>
<rect x="946" y="549" width="3" height="1" fill="#400000"/>
<polyline points="943.1,561.2 964.9,484.8 976.9,513.5 1022.2,292.8 1042.7,330.2 1059.0,237.8 1087.9,312.9 1108.9,156.1 1144.0,299.4 1180.8,141.9 1217.6,292.8 1237.2,148.8 1274.0,289.1 1292.6,209.3 1312.0,230.4 1341.6,115.9 1357.5,149.3 1370.0,89.9" fill="none" stroke="#0000ff" stroke-width="1.4" stroke-linejoin="miter"/>
<line x1="371" y1="270.5" x2="446" y2="270.5" stroke="#000" stroke-width="1"/>
<rect x="445.5" y="261.5" width="50" height="17" rx="3.5" fill="#fdf98c" stroke="#000" stroke-width="1" style="shape-rendering:auto"/>
<text x="470.8" y="274" font-family="Liberation Sans, sans-serif" font-weight="bold" font-size="11" fill="#000" text-anchor="middle">12641.15</text>
<text x="86.4" y="255.4" font-family="Liberation Sans, sans-serif" font-weight="bold" font-size="14" fill="#0000ff" text-anchor="middle">(Y)</text>
<text x="151.1" y="246.5" font-family="Liberation Sans, sans-serif" font-weight="bold" font-size="14" fill="#0000ff" text-anchor="middle">(Z)</text>
<text x="110.2" y="328.4" font-family="Liberation Sans, sans-serif" font-weight="bold" font-size="14" fill="#0000ff" text-anchor="middle">(X)</text>
<text x="202.1" y="398.2" font-family="Liberation Sans, sans-serif" font-weight="bold" font-size="14" fill="#0000ff" text-anchor="middle">(1)</text>
<text x="370.7" y="245.0" font-family="Liberation Sans, sans-serif" font-weight="bold" font-size="14" fill="#0000ff" text-anchor="middle">(2)</text>
<text x="602.3" y="687.7" font-family="Liberation Sans, sans-serif" font-weight="bold" font-size="14" fill="#0000ff" text-anchor="middle">(3)</text>
<text x="638.7" y="541.6" font-family="Liberation Sans, sans-serif" font-weight="bold" font-size="14" fill="#0000ff" text-anchor="middle">(4)</text>
<text x="710.3" y="732.7" font-family="Liberation Sans, sans-serif" font-weight="bold" font-size="14" fill="#0000ff" text-anchor="middle">(1)</text>
<text x="714.0" y="807.7" font-family="Liberation Sans, sans-serif" font-weight="bold" font-size="14" fill="#0000ff" text-anchor="middle">(2)</text>
<text x="702.3" y="821.1" font-family="Liberation Sans, sans-serif" font-weight="bold" font-size="14" fill="#0000ff" text-anchor="middle">(5)</text>
<text x="730.6" y="635.8" font-family="Liberation Sans, sans-serif" font-weight="bold" font-size="14" fill="#0000ff" text-anchor="middle">(3)</text>
<text x="742.5" y="705.4" font-family="Liberation Sans, sans-serif" font-weight="bold" font-size="14" fill="#0000ff" text-anchor="middle">(4)</text>
<text x="782.6" y="558.4" font-family="Liberation Sans, sans-serif" font-weight="bold" font-size="14" fill="#0000ff" text-anchor="middle">(5)</text>
<text x="810.5" y="537.5" font-family="Liberation Sans, sans-serif" font-weight="bold" font-size="14" fill="#0000ff" text-anchor="middle">(B)</text>
<text x="794.8" y="607.7" font-family="Liberation Sans, sans-serif" font-weight="bold" font-size="14" fill="#0000ff" text-anchor="middle">(A)</text>
<text x="818.9" y="640.3" font-family="Liberation Sans, sans-serif" font-weight="bold" font-size="14" fill="#0000ff" text-anchor="middle">(C)</text>
<text x="882.6" y="495.1" font-family="Liberation Sans, sans-serif" font-weight="bold" font-size="14" fill="#0000ff" text-anchor="middle">(1)</text>
<text x="942.4" y="593.7" font-family="Liberation Sans, sans-serif" font-weight="bold" font-size="14" fill="#0000ff" text-anchor="middle">(2)</text>
<text x="1058.4" y="214.5" font-family="Liberation Sans, sans-serif" font-weight="bold" font-size="14" fill="#0000ff" text-anchor="middle">(3)</text>
<text x="1087.5" y="330.3" font-family="Liberation Sans, sans-serif" font-weight="bold" font-size="14" fill="#0000ff" text-anchor="middle">(4)</text>
<text x="1108.9" y="146.7" font-family="Liberation Sans, sans-serif" font-weight="bold" font-size="14" fill="#0000ff" text-anchor="middle">(5)</text>
<text x="1144.5" y="316.6" font-family="Liberation Sans, sans-serif" font-weight="bold" font-size="14" fill="#0000ff" text-anchor="middle">(A)</text>
<text x="1180.8" y="133.7" font-family="Liberation Sans, sans-serif" font-weight="bold" font-size="14" fill="#0000ff" text-anchor="middle">(B)</text>
<text x="1218.0" y="310.4" font-family="Liberation Sans, sans-serif" font-weight="bold" font-size="14" fill="#0000ff" text-anchor="middle">(C)</text>
<text x="1237.2" y="139.9" font-family="Liberation Sans, sans-serif" font-weight="bold" font-size="14" fill="#0000ff" text-anchor="middle">(D)</text>
<text x="1274.0" y="306.7" font-family="Liberation Sans, sans-serif" font-weight="bold" font-size="14" fill="#0000ff" text-anchor="middle">(E)</text>
<text x="1292.6" y="201.2" font-family="Liberation Sans, sans-serif" font-weight="bold" font-size="14" fill="#0000ff" text-anchor="middle">(1)</text>
<text x="1311.4" y="247.0" font-family="Liberation Sans, sans-serif" font-weight="bold" font-size="14" fill="#0000ff" text-anchor="middle">(2)</text>
<text x="1341.0" y="107.0" font-family="Liberation Sans, sans-serif" font-weight="bold" font-size="14" fill="#0000ff" text-anchor="middle">(3)</text>
<text x="1357.5" y="166.4" font-family="Liberation Sans, sans-serif" font-weight="bold" font-size="14" fill="#0000ff" text-anchor="middle">(4)</text>
<text x="1369.1" y="81.8" font-family="Liberation Sans, sans-serif" font-weight="bold" font-size="14" fill="#0000ff" text-anchor="middle">(5)</text>
<text x="290.9" y="288.7" font-family="Liberation Sans, sans-serif" font-weight="bold" font-size="13.5" fill="#ff00ff" text-anchor="middle">W</text>
<text x="370.9" y="261.9" font-family="Liberation Sans, sans-serif" font-weight="bold" font-size="13.5" fill="#ff00ff" text-anchor="middle">Y</text>
<text x="331.6" y="371.7" font-family="Liberation Sans, sans-serif" font-weight="bold" font-size="13.5" fill="#ff00ff" text-anchor="middle">X</text>
<text x="398.5" y="368.0" font-family="Liberation Sans, sans-serif" font-size="13.5" fill="#ff00ff" text-anchor="middle">1</text>
<text x="434.4" y="312.3" font-family="Liberation Sans, sans-serif" font-size="13.5" fill="#ff00ff" text-anchor="middle">2</text>
<text x="530.6" y="637.0" font-family="Liberation Sans, sans-serif" font-size="13.5" fill="#ff00ff" text-anchor="middle">3</text>
<text x="554.4" y="432.7" font-family="Liberation Sans, sans-serif" font-weight="bold" font-size="13.5" fill="#ff00ff" text-anchor="middle">4</text>
<text x="602.3" y="670.9" font-family="Liberation Sans, sans-serif" font-size="13.5" fill="#ff00ff" text-anchor="middle">5</text>
<text x="927.2" y="489.1" font-family="Liberation Sans, sans-serif" font-weight="bold" font-size="13.5" fill="#ff00ff" text-anchor="middle">X</text>
<text x="964.5" y="478.2" font-family="Liberation Sans, sans-serif" font-size="13.5" fill="#ff00ff" text-anchor="middle">1</text>
<text x="976.7" y="530.0" font-family="Liberation Sans, sans-serif" font-size="13.5" fill="#ff00ff" text-anchor="middle">2</text>
<text x="899.3" y="589.9" font-family="Liberation Sans, sans-serif" font-weight="bold" font-size="13.5" fill="#ff00ff" text-anchor="middle">W</text>
<text x="943.1" y="576.9" font-family="Liberation Sans, sans-serif" font-weight="bold" font-size="13.5" fill="#ff00ff" text-anchor="middle">Y</text>
<text x="1022.7" y="285.2" font-family="Liberation Sans, sans-serif" font-size="13.5" fill="#ff00ff" text-anchor="middle">3</text>
<text x="1042.7" y="346.4" font-family="Liberation Sans, sans-serif" font-size="13.5" fill="#ff00ff" text-anchor="middle">4</text>
<text x="1058.4" y="231.4" font-family="Liberation Sans, sans-serif" font-size="13.5" fill="#ff00ff" text-anchor="middle">5</text>
<circle cx="150.5" cy="222.2" r="8.7" fill="none" stroke="#b0b0b0" stroke-width="1.2"/>
<text x="150.5" y="226.5" font-family="Liberation Sans, sans-serif" font-weight="bold" font-size="12" fill="#909090" text-anchor="middle">B</text>
<circle cx="702.5" cy="833.5" r="8.7" fill="none" stroke="#b0b0b0" stroke-width="1.2"/>
<text x="702.5" y="837.8" font-family="Liberation Sans, sans-serif" font-weight="bold" font-size="12" fill="#909090" text-anchor="middle">C</text>
<circle cx="782.2" cy="533.9" r="8.7" fill="none" stroke="#b0b0b0" stroke-width="1.2"/>
<text x="782.2" y="538.2" font-family="Liberation Sans, sans-serif" font-weight="bold" font-size="12" fill="#909090" text-anchor="middle">1</text>
<circle cx="818.5" cy="652.1" r="8.7" fill="none" stroke="#b0b0b0" stroke-width="1.2"/>
<text x="818.5" y="656.4" font-family="Liberation Sans, sans-serif" font-weight="bold" font-size="12" fill="#909090" text-anchor="middle">2</text>
<circle cx="1108.9" cy="123.5" r="8.7" fill="none" stroke="#b0b0b0" stroke-width="1.2"/>
<text x="1108.9" y="127.8" font-family="Liberation Sans, sans-serif" font-weight="bold" font-size="12" fill="#909090" text-anchor="middle">3</text>
<circle cx="1274.0" cy="319.8" r="8.7" fill="none" stroke="#b0b0b0" stroke-width="1.2"/>
<text x="1274.0" y="324.1" font-family="Liberation Sans, sans-serif" font-weight="bold" font-size="12" fill="#909090" text-anchor="middle">4</text>
<circle cx="1369.1" cy="58.8" r="8.7" fill="none" stroke="#b0b0b0" stroke-width="1.2"/>
<text x="1369.1" y="63.1" font-family="Liberation Sans, sans-serif" font-weight="bold" font-size="12" fill="#909090" text-anchor="middle">5</text>
<circle cx="462.3" cy="346.4" r="6.6" fill="#fff" fill-opacity="0.6" stroke="#3a9a84" stroke-width="1.1"/>
<text x="462.3" y="350.0" font-family="Liberation Sans, sans-serif" font-size="10" fill="#2a8c8c" text-anchor="middle" font-weight="bold">ii</text>
<circle cx="458.3" cy="395.2" r="6.6" fill="#fff" fill-opacity="0.6" stroke="#3a9a84" stroke-width="1.1"/>
<text x="458.3" y="398.8" font-family="Liberation Sans, sans-serif" font-size="10" fill="#2a8c8c" text-anchor="middle" font-weight="bold">i</text>
<circle cx="506.3" cy="452.0" r="6.6" fill="#fff" fill-opacity="0.6" stroke="#3a9a84" stroke-width="1.1"/>
<text x="506.3" y="455.6" font-family="Liberation Sans, sans-serif" font-size="10" fill="#2a8c8c" text-anchor="middle" font-weight="bold">iv</text>
<circle cx="490.5" cy="563.2" r="6.6" fill="#fff" fill-opacity="0.6" stroke="#3a9a84" stroke-width="1.1"/>
<text x="490.5" y="566.8" font-family="Liberation Sans, sans-serif" font-size="10" fill="#2a8c8c" text-anchor="middle" font-weight="bold">iii</text>
<circle cx="530.6" cy="616.3" r="6.6" fill="#fff" fill-opacity="0.6" stroke="#3a9a84" stroke-width="1.1"/>
<text x="530.6" y="619.9" font-family="Liberation Sans, sans-serif" font-size="10" fill="#2a8c8c" text-anchor="middle" font-weight="bold">v</text>
<text x="704.0" y="863.2" font-family="Liberation Sans, sans-serif" font-weight="bold" font-size="20" fill="#000" text-anchor="middle">IV</text>
<text x="1369.3" y="45.1" font-family="Liberation Sans, sans-serif" font-weight="bold" font-size="21.5" fill="#000" text-anchor="middle">V</text>
<text x="1371.4" y="19.3" font-family="Liberation Sans, sans-serif" font-weight="bold" font-size="21.5" fill="#ff0000" text-anchor="middle" textLength="31.5" lengthAdjust="spacingAndGlyphs">(III)</text>
<path d="M1398.5,544.9 L1405,537.8 L1459,537.8 Q1462,537.8 1462,540.8 L1462,549.0 Q1462,552.0 1459,552.0 L1405,552.0 Z" fill="#e4f6fa" stroke="#8c948c" stroke-width="1.3"/>
<text x="1408" y="549.5" font-family="Liberation Sans, sans-serif" font-size="12.8" fill="#000028">10779.34</text>
<path d="M1398.5,555.6 L1405,548.6 L1459,548.6 Q1462,548.6 1462,551.6 L1462,559.6 Q1462,562.6 1459,562.6 L1405,562.6 Z" fill="#f6d4d4" stroke="#8c948c" stroke-width="1.3"/>
<text x="1408" y="560.2" font-family="Liberation Sans, sans-serif" font-size="12.8" fill="#000028">10761.01</text>
<path d="M1398.5,549.7 L1405,542.8 L1459,542.8 Q1462,542.8 1462,545.8 L1462,553.6 Q1462,556.6 1459,556.6 L1405,556.6 Z" fill="#ffffff" stroke="#8c948c" stroke-width="1.3"/>
<text x="1408" y="554.3" font-family="Liberation Sans, sans-serif" font-size="12.8" fill="#000028">10742.93</text>
<path d="M320.3,821.5 L618.1,821.5 L701.5,795.7 L627.9,831.4 L627.9,847.7 Q627.9,853.7 621.9,853.7 L320.3,853.7 Q314.3,853.7 314.3,847.7 L314.3,827.5 Q314.3,821.5 320.3,821.5 Z" fill="#7c7c7c"/>
<path d="M315.8,816.5 L613.6,816.5 L697,790.7 L623.4,826.4 L623.4,842.7 Q623.4,848.7 617.4,848.7 L315.8,848.7 Q309.8,848.7 309.8,842.7 L309.8,822.5 Q309.8,816.5 315.8,816.5 Z" fill="#e0f5e2" stroke="#2a2a2a" stroke-width="1.6" stroke-linejoin="miter"/>
<text x="316.4" y="838.3" font-family="Liberation Sans, sans-serif" font-weight="bold" font-style="italic" font-size="17" fill="#008000" textLength="293" lengthAdjust="spacingAndGlyphs">Crashheinis schlagen Purzelbäume</text>
<path d="M68.3,120.5 C78,104 100,90 118,85 C130,81 145,78 156.8,76.8 L164.2,88.2 C178,86 195,80 207.5,74.4 C214,71 219,67 223.2,62.4 C233,79 244,98 254.6,115.9 L258,150 C250,162 240,170 225,172 L160,176 C140,177 125,182 115.3,187.8 L107,197 C95,175 80,148 68.3,120.5 Z" fill="#6a6a74" transform="translate(1.2,1.6)"/>
<path d="M68.3,120.5 C78,104 100,90 118,85 C130,81 145,78 156.8,76.8 L164.2,88.2 C178,86 195,80 207.5,74.4 C214,71 219,67 223.2,62.4 C233,79 244,98 254.6,115.9 L258,150 C250,162 240,170 225,172 L160,176 C140,177 125,182 115.3,187.8 L107,197 C95,175 80,148 68.3,120.5 Z" fill="#2a2c8c"/>
<path d="M164.2,88.2 C178,86 195,80 207.5,74.4 C214,71 219,67 223.2,62.4 C233,79 244,98 254.6,115.9 L258,150 C240,120 215,100 190,104 C180,106 172,104 164.2,88.2 Z" fill="#3238a6" opacity="0.7"/>
<path d="M156.8,76.8 L164.2,88.2 C172,108 180,128 190,150 L182,153 C174,130 166,108 156.8,76.8 Z" fill="#4c5ad6" opacity="0.85"/>
<path d="M68.3,120.5 C78,104 100,90 118,85 C108,95 90,108 80,128 Z" fill="#232370" opacity="0.6"/>
<polygon points="143.90,100.60 144.71,102.78 147.04,102.88 145.22,104.33 145.84,106.57 143.90,105.29 141.96,106.57 142.58,104.33 140.76,102.88 143.09,102.78" fill="#f6c000"/>
<polygon points="156.30,93.70 157.11,95.88 159.44,95.98 157.62,97.43 158.24,99.67 156.30,98.39 154.36,99.67 154.98,97.43 153.16,95.98 155.49,95.88" fill="#f6c000"/>
<polygon points="170.30,93.70 171.11,95.88 173.44,95.98 171.62,97.43 172.24,99.67 170.30,98.39 168.36,99.67 168.98,97.43 167.16,95.98 169.49,95.88" fill="#f6c000"/>
<polygon points="181.70,100.60 182.51,102.78 184.84,102.88 183.02,104.33 183.64,106.57 181.70,105.29 179.76,106.57 180.38,104.33 178.56,102.88 180.89,102.78" fill="#f6c000"/>
<polygon points="189.10,112.60 189.91,114.78 192.24,114.88 190.42,116.33 191.04,118.57 189.10,117.29 187.16,118.57 187.78,116.33 185.96,114.88 188.29,114.78" fill="#f6c000"/>
<polygon points="187.30,126.40 188.11,128.58 190.44,128.68 188.62,130.13 189.24,132.37 187.30,131.09 185.36,132.37 185.98,130.13 184.16,128.68 186.49,128.58" fill="#f6c000"/>
<polygon points="182.60,138.40 183.41,140.58 185.74,140.68 183.92,142.13 184.54,144.37 182.60,143.09 180.66,144.37 181.28,142.13 179.46,140.68 181.79,140.58" fill="#f6c000"/>
<polygon points="137.50,112.60 138.31,114.78 140.64,114.88 138.82,116.33 139.44,118.57 137.50,117.29 135.56,118.57 136.18,116.33 134.36,114.88 136.69,114.78" fill="#f6c000"/>
<polygon points="143.50,137.20 144.31,139.38 146.64,139.48 144.82,140.93 145.44,143.17 143.50,141.89 141.56,143.17 142.18,140.93 140.36,139.48 142.69,139.38" fill="#f6c000"/>
<path d="M71.6,136.6 H89.4 A8.9,9.1 0 1 0 80.5,145.6 H88.3 M92.5,117.2 V140 Q92.5,145.3 97.5,145.3 M101.5,117.2 V140 Q101.5,145.3 106.5,145.3 M110.4,117.6 V121.4 M110.4,129 V144.5 M122.4,128.2 A8.7,8.7 0 1 0 122.41,128.2 M133.1,117.2 V137 Q133.1,143.4 140,143.4 Q146,143.4 149,139 M133.1,128.3 H139 M153,117.2 V137 Q153,143.4 160,143.4 Q167,143.4 170.5,137.5 M153,128.3 H159.2 M192.4,127 V137 A9,7 0 0 0 210.4,137 V127 M210.4,137 A9,7 0 0 0 228.4,137 V127 M230.5,136.3 H250.3 A10,8.6 0 1 0 240.3,144.6 H249 M253.5,117.7 V144.2 M262,117.7 V144.2 M269.6,136 H289.6 A10,9 0 1 0 279.6,145 H288 M291.5,144.2 V135 A8,8 0 0 1 307.5,135 V144.2" fill="none" stroke="#4a4a40" stroke-width="7.5" stroke-linecap="round" stroke-linejoin="round" opacity="0.55" transform="translate(1.4,2.0)"/>
<path d="M71.6,136.6 H89.4 A8.9,9.1 0 1 0 80.5,145.6 H88.3 M92.5,117.2 V140 Q92.5,145.3 97.5,145.3 M101.5,117.2 V140 Q101.5,145.3 106.5,145.3 M110.4,117.6 V121.4 M110.4,129 V144.5 M122.4,128.2 A8.7,8.7 0 1 0 122.41,128.2 M133.1,117.2 V137 Q133.1,143.4 140,143.4 Q146,143.4 149,139 M133.1,128.3 H139 M153,117.2 V137 Q153,143.4 160,143.4 Q167,143.4 170.5,137.5 M153,128.3 H159.2 M192.4,127 V137 A9,7 0 0 0 210.4,137 V127 M210.4,137 A9,7 0 0 0 228.4,137 V127 M230.5,136.3 H250.3 A10,8.6 0 1 0 240.3,144.6 H249 M253.5,117.7 V144.2 M262,117.7 V144.2 M269.6,136 H289.6 A10,9 0 1 0 279.6,145 H288 M291.5,144.2 V135 A8,8 0 0 1 307.5,135 V144.2" fill="none" stroke="#7a6400" stroke-width="7.5" stroke-linecap="round" stroke-linejoin="round"/>
<path d="M71.6,136.6 H89.4 A8.9,9.1 0 1 0 80.5,145.6 H88.3 M92.5,117.2 V140 Q92.5,145.3 97.5,145.3 M101.5,117.2 V140 Q101.5,145.3 106.5,145.3 M110.4,117.6 V121.4 M110.4,129 V144.5 M122.4,128.2 A8.7,8.7 0 1 0 122.41,128.2 M133.1,117.2 V137 Q133.1,143.4 140,143.4 Q146,143.4 149,139 M133.1,128.3 H139 M153,117.2 V137 Q153,143.4 160,143.4 Q167,143.4 170.5,137.5 M153,128.3 H159.2 M192.4,127 V137 A9,7 0 0 0 210.4,137 V127 M210.4,137 A9,7 0 0 0 228.4,137 V127 M230.5,136.3 H250.3 A10,8.6 0 1 0 240.3,144.6 H249 M253.5,117.7 V144.2 M262,117.7 V144.2 M269.6,136 H289.6 A10,9 0 1 0 279.6,145 H288 M291.5,144.2 V135 A8,8 0 0 1 307.5,135 V144.2" fill="none" stroke="#f4de52" stroke-width="5.1" stroke-linecap="round" stroke-linejoin="round"/>
<path d="M71.6,136.6 H89.4 A8.9,9.1 0 1 0 80.5,145.6 H88.3 M92.5,117.2 V140 Q92.5,145.3 97.5,145.3 M101.5,117.2 V140 Q101.5,145.3 106.5,145.3 M110.4,117.6 V121.4 M110.4,129 V144.5 M122.4,128.2 A8.7,8.7 0 1 0 122.41,128.2 M133.1,117.2 V137 Q133.1,143.4 140,143.4 Q146,143.4 149,139 M133.1,128.3 H139 M153,117.2 V137 Q153,143.4 160,143.4 Q167,143.4 170.5,137.5 M153,128.3 H159.2 M192.4,127 V137 A9,7 0 0 0 210.4,137 V127 M210.4,137 A9,7 0 0 0 228.4,137 V127 M230.5,136.3 H250.3 A10,8.6 0 1 0 240.3,144.6 H249 M253.5,117.7 V144.2 M262,117.7 V144.2 M269.6,136 H289.6 A10,9 0 1 0 279.6,145 H288 M291.5,144.2 V135 A8,8 0 0 1 307.5,135 V144.2" fill="none" stroke="#fff6b4" stroke-width="2.3" stroke-linecap="round" stroke-linejoin="round"/>
<path d="M132.8,151.4 A10,10.9 0 1 0 132.81,151.4 M146.2,156 V173 M150.5,173 V161.5 A10.5,10 0 0 1 171.5,161.5 V173 M186,152.7 A9.6,9.6 0 1 0 186.01,152.7 M201.4,137.9 V173 M211.5,151.5 V160 A11.25,8.5 0 0 0 234,160 M234,151.5 V186 A12.8,8.5 0 0 1 208.4,186 M257.5,153.5 Q252,150.8 245.5,150.8 Q239.5,150.8 239.5,156 Q239.5,160.5 247.5,162.5 Q257,164.8 257,169.5 Q257,173 249,173 Q242.5,173 238.5,170.5 M263.7,162.5 H288.7 A12.5,11 0 1 0 276.2,173.5 H289 M291.5,172.6 V161 A9.75,11 0 0 1 311,161 V172.6" fill="none" stroke="#505860" stroke-width="9.8" stroke-linecap="round" stroke-linejoin="round" opacity="0.55" transform="translate(1.4,2.2)"/>
<path d="M132.8,151.4 A10,10.9 0 1 0 132.81,151.4 M146.2,156 V173 M150.5,173 V161.5 A10.5,10 0 0 1 171.5,161.5 V173 M186,152.7 A9.6,9.6 0 1 0 186.01,152.7 M201.4,137.9 V173 M211.5,151.5 V160 A11.25,8.5 0 0 0 234,160 M234,151.5 V186 A12.8,8.5 0 0 1 208.4,186 M257.5,153.5 Q252,150.8 245.5,150.8 Q239.5,150.8 239.5,156 Q239.5,160.5 247.5,162.5 Q257,164.8 257,169.5 Q257,173 249,173 Q242.5,173 238.5,170.5 M263.7,162.5 H288.7 A12.5,11 0 1 0 276.2,173.5 H289 M291.5,172.6 V161 A9.75,11 0 0 1 311,161 V172.6" fill="none" stroke="#12689a" stroke-width="9.8" stroke-linecap="round" stroke-linejoin="round"/>
<path d="M132.8,151.4 A10,10.9 0 1 0 132.81,151.4 M146.2,156 V173 M150.5,173 V161.5 A10.5,10 0 0 1 171.5,161.5 V173 M186,152.7 A9.6,9.6 0 1 0 186.01,152.7 M201.4,137.9 V173 M211.5,151.5 V160 A11.25,8.5 0 0 0 234,160 M234,151.5 V186 A12.8,8.5 0 0 1 208.4,186 M257.5,153.5 Q252,150.8 245.5,150.8 Q239.5,150.8 239.5,156 Q239.5,160.5 247.5,162.5 Q257,164.8 257,169.5 Q257,173 249,173 Q242.5,173 238.5,170.5 M263.7,162.5 H288.7 A12.5,11 0 1 0 276.2,173.5 H289 M291.5,172.6 V161 A9.75,11 0 0 1 311,161 V172.6" fill="none" stroke="#62b8e2" stroke-width="7.2" stroke-linecap="round" stroke-linejoin="round"/>
<path d="M132.8,151.4 A10,10.9 0 1 0 132.81,151.4 M146.2,156 V173 M150.5,173 V161.5 A10.5,10 0 0 1 171.5,161.5 V173 M186,152.7 A9.6,9.6 0 1 0 186.01,152.7 M201.4,137.9 V173 M211.5,151.5 V160 A11.25,8.5 0 0 0 234,160 M234,151.5 V186 A12.8,8.5 0 0 1 208.4,186 M257.5,153.5 Q252,150.8 245.5,150.8 Q239.5,150.8 239.5,156 Q239.5,160.5 247.5,162.5 Q257,164.8 257,169.5 Q257,173 249,173 Q242.5,173 238.5,170.5 M263.7,162.5 H288.7 A12.5,11 0 1 0 276.2,173.5 H289 M291.5,172.6 V161 A9.75,11 0 0 1 311,161 V172.6" fill="none" stroke="#a8def2" stroke-width="3.0" stroke-linecap="round" stroke-linejoin="round"/>
<text x="722" y="186.6" font-family="Liberation Serif, serif" font-weight="bold" font-size="31.5" fill="#000" text-anchor="middle" textLength="168" lengthAdjust="spacingAndGlyphs">SDAX (Tag)</text>
</svg>
</body></html>
